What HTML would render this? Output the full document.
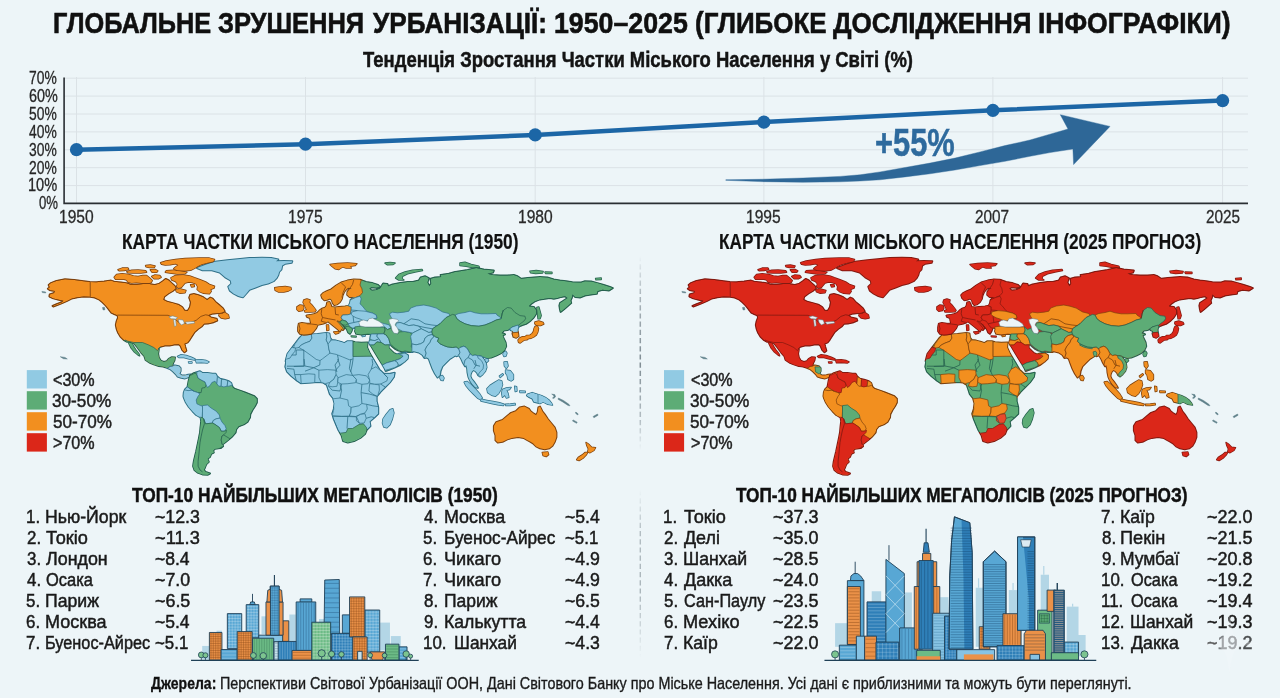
<!DOCTYPE html>
<html lang="uk"><head><meta charset="utf-8"><title>Глобальне зрушення урбанізації: 1950–2025</title>
<style>
html,body{margin:0;padding:0;}
body{width:1280px;height:698px;overflow:hidden;background:#edf5f8;font-family:"Liberation Sans", sans-serif;position:relative;}
#g,#ov{position:absolute;left:0;top:0;width:1280px;height:698px;display:block;}
.t{position:absolute;display:block;white-space:nowrap;transform-origin:0 0;margin:0;padding:0;font-weight:400;}
h1,h2,h3,p{margin:0;padding:0;font-size:0;line-height:0;}
</style></head><body>
<svg id="g" width="1280" height="698" viewBox="0 0 1280 698">
<line x1="64" y1="78.2" x2="1248" y2="78.2" stroke="#dbe2e6" stroke-width="1"/>
<line x1="64" y1="96.1" x2="1248" y2="96.1" stroke="#dbe2e6" stroke-width="1"/>
<line x1="64" y1="114.0" x2="1248" y2="114.0" stroke="#dbe2e6" stroke-width="1"/>
<line x1="64" y1="131.9" x2="1248" y2="131.9" stroke="#dbe2e6" stroke-width="1"/>
<line x1="64" y1="149.8" x2="1248" y2="149.8" stroke="#dbe2e6" stroke-width="1"/>
<line x1="64" y1="167.7" x2="1248" y2="167.7" stroke="#dbe2e6" stroke-width="1"/>
<line x1="64" y1="185.6" x2="1248" y2="185.6" stroke="#dbe2e6" stroke-width="1"/>
<line x1="64" y1="203.5" x2="1248" y2="203.5" stroke="#dbe2e6" stroke-width="1"/>
<line x1="76.5" y1="77" x2="76.5" y2="203" stroke="#dbe2e6" stroke-width="1"/>
<line x1="305.5" y1="77" x2="305.5" y2="203" stroke="#dbe2e6" stroke-width="1"/>
<line x1="535.2" y1="77" x2="535.2" y2="203" stroke="#dbe2e6" stroke-width="1"/>
<line x1="763.9" y1="77" x2="763.9" y2="203" stroke="#dbe2e6" stroke-width="1"/>
<line x1="992.9" y1="77" x2="992.9" y2="203" stroke="#dbe2e6" stroke-width="1"/>
<line x1="1222.6" y1="77" x2="1222.6" y2="203" stroke="#dbe2e6" stroke-width="1"/>
<path d="M64.1 77.5 V203.4 H1248" fill="none" stroke="#2a2f33" stroke-width="1.6"/>
<path d="M725.8,179.8 760,179.3 803,178.0 840,176.4 860,174.8 880,171.9 905,167.5 930,163.1 955,158.1 980,151.9 1005,145.6 1030,140.0 1050,134.2 1068,129.0 L1060.3,114.7 L1110,126.4 L1073.6,164.6 L1072.9,149.0 L1050,152.6 L1030,156.3 L1005,161.3 L980,165.6 L955,170.0 L930,173.8 L905,176.9 L880,179.8 L860,181.0 L840,181.8 L803,182.3 L760,181.6 L725.8,180.3Z" fill="#2e6797" stroke="#2e6797" stroke-width="0.4" stroke-linejoin="round"/>
<polyline points="76.5,149.7 305.5,144.2 535.2,134.9 763.9,122.1 992.9,110.3 1222.6,100.6" fill="none" stroke="#1c66a6" stroke-width="4.5" stroke-linejoin="round"/>
<circle cx="76.5" cy="149.7" r="6.6" fill="#1c66a6"/>
<circle cx="305.5" cy="144.2" r="6.6" fill="#1c66a6"/>
<circle cx="535.2" cy="134.9" r="6.6" fill="#1c66a6"/>
<circle cx="763.9" cy="122.1" r="6.6" fill="#1c66a6"/>
<circle cx="992.9" cy="110.3" r="6.6" fill="#1c66a6"/>
<circle cx="1222.6" cy="100.6" r="6.6" fill="#1c66a6"/>
<defs><path id="L_na" d="M50.9,283.1 56.4,280.9 65.0,279.2 74.4,280.0 83.8,281.2 90.0,281.9 96.2,282.2 104.1,281.5 111.1,280.6 114.2,281.7 121.2,282.5 126.7,283.3 130.6,284.7 136.9,284.7 143.1,284.0 149.4,284.0 154.8,285.0 159.5,283.6 163.4,280.8 165.8,278.9 168.9,280.5 172.0,283.6 174.7,285.9 175.9,288.3 172.8,290.9 168.1,293.7 164.2,296.8 163.4,299.7 167.3,301.8 172.8,303.1 178.3,304.7 182.2,307.0 184.5,310.6 187.7,310.9 190.0,307.0 190.8,302.3 189.2,297.6 190.3,294.7 193.9,294.0 198.6,295.3 203.3,297.2 207.2,300.0 210.3,297.6 212.7,298.7 215.8,302.3 219.7,305.4 223.1,308.6 224.7,311.2 222.0,312.8 216.6,313.2 211.9,313.7 208.0,315.3 211.1,317.5 216.6,318.7 217.3,320.6 212.7,322.6 208.0,323.4 204.1,323.7 201.7,326.5 198.1,328.9 194.7,332.0 192.3,335.6 190.0,339.3 187.7,342.4 184.5,343.7 185.3,347.1 186.4,350.7 184.5,352.3 182.2,349.9 180.6,346.0 178.8,344.3 174.4,344.6 169.7,345.6 165.0,345.6 160.3,346.8 157.5,349.2 158.8,349.4 158.1,353.8 158.8,357.5 160.6,360.6 163.8,361.9 166.9,361.2 168.8,358.8 171.9,357.2 175.0,357.5 174.4,360.6 173.1,363.1 172.2,365.6 175.0,365.6 178.8,366.2 180.6,368.1 180.6,371.2 179.4,373.8 181.9,375.6 185.0,375.6 188.1,374.8 190.6,374.4 190.0,376.5 188.1,377.2 185.0,378.4 181.2,377.8 177.5,376.5 175.6,374.0 173.1,371.5 170.0,369.0 166.2,367.5 163.1,366.5 158.8,366.0 153.8,364.4 149.4,362.5 145.6,360.0 144.4,356.2 141.2,352.5 137.5,347.5 134.0,343.1 127.8,341.2 127.2,341.8 123.6,339.8 120.5,336.7 118.1,332.8 116.6,328.9 115.8,325.0 116.6,321.1 118.1,317.5 117.3,315.3 114.2,314.0 111.1,312.5 108.8,309.3 105.6,305.4 102.5,302.3 99.4,299.7 94.7,297.6 90.0,296.8 83.8,296.5 77.5,297.2 72.0,298.4 66.6,301.2 60.3,303.9 53.3,306.5 52.5,305.9 57.2,303.9 61.9,302.3 63.4,300.8 58.8,299.7 53.3,298.4 49.4,296.5 49.7,294.5 54.1,292.9 54.8,290.9 50.2,290.3 47.8,288.7 49.7,287.2 48.6,285.1Z"/><path id="L_baja" d="M127.8,341.0 129.4,344.4 131.2,348.1 134.4,351.9 138.1,355.0 139.6,355.8 138.8,353.8 136.0,350.2 133.5,346.5 132.2,343.5 131.9,342.2Z"/><path id="L_greenland" d="M197.0,268.0 205.6,264.8 215.0,261.7 227.5,260.2 240.0,259.1 249.4,258.1 261.9,257.8 271.2,258.1 278.3,259.4 275.9,261.2 283.8,260.9 292.3,261.2 291.6,262.8 285.3,263.7 282.2,265.6 281.4,269.5 279.1,271.9 278.3,275.0 276.7,278.1 273.6,281.2 268.1,283.6 261.9,285.1 255.6,287.5 249.4,289.8 246.2,293.7 243.1,297.2 240.8,296.8 238.4,296.1 233.8,293.7 229.8,290.6 228.3,286.7 231.4,283.6 230.6,280.5 225.2,277.3 219.7,272.6 211.9,270.3 202.5,270.3Z"/><path id="L_banks" d="M118.0,269.8 122.2,268.1 127.8,267.9 128.7,269.4 124.1,270.6 119.4,270.8Z"/><path id="L_melville" d="M126.9,271.7 131.6,270.3 138.1,270.0 145.6,270.8 146.6,272.2 140.9,273.1 133.4,273.1 127.8,272.8Z"/><path id="L_victoria" d="M114.2,277.3 116.6,274.5 122.2,273.8 128.7,274.5 133.4,275.9 138.1,276.6 142.8,275.5 146.6,275.5 149.4,277.8 152.2,280.6 151.2,282.5 147.5,283.4 141.9,283.0 136.2,282.5 131.6,283.0 127.8,282.0 126.9,280.1 124.1,279.2 119.4,279.2 115.6,279.2Z"/><path id="L_somerset" d="M151.7,276.4 155.0,275.0 159.7,275.5 161.1,277.3 158.7,278.7 154.1,278.7Z"/><path id="L_devon" d="M166.2,270.8 173.7,270.3 181.2,271.2 186.9,272.2 185.0,273.8 177.5,274.0 170.0,273.1 165.3,272.2Z"/><path id="L_ellesmere" d="M160.6,262.8 166.2,260.9 175.6,259.5 185.0,258.6 199.1,258.1 209.4,258.1 214.5,259.5 213.1,261.4 207.5,262.8 201.9,264.2 198.1,266.1 194.4,268.4 190.6,270.3 185.0,270.8 177.5,270.3 173.7,268.9 175.6,267.0 178.4,265.1 175.6,263.7 170.0,264.7 165.3,265.1 161.6,264.2Z"/><path id="L_baffin" d="M170.9,277.8 175.6,275.5 183.1,275.0 189.7,275.9 194.4,277.8 200.0,279.7 205.6,282.0 209.4,284.4 214.5,286.2 214.1,288.1 210.3,289.5 211.2,291.4 209.4,293.7 203.7,293.3 200.0,291.9 197.2,289.5 197.7,286.7 196.2,283.9 192.5,282.5 188.7,282.0 185.0,283.0 183.1,285.3 181.2,287.6 178.4,288.1 176.6,286.7 177.5,283.9 175.6,281.5 171.9,280.1Z"/><path id="L_bathurst" d="M145.6,265.6 150.3,265.1 155.0,266.1 154.1,267.5 149.4,267.5 146.1,266.8Z"/><path id="L_bathurst2" d="M150.3,269.8 155.0,269.4 157.8,270.8 156.9,272.2 152.2,272.2Z"/><path id="L_southampton" d="M175.6,289.5 180.3,289.1 185.9,290.5 185.0,292.8 180.3,293.3 176.6,291.9Z"/><path id="L_foxe" d="M190.6,284.8 193.9,284.6 194.4,286.5 191.6,286.9Z"/><path id="L_newfoundland" d="M219.7,312.5 224.4,312.2 228.3,314.8 229.1,317.9 225.2,318.7 221.2,317.9 218.9,315.6Z"/><path id="L_cuba" d="M177.5,356.5 181.2,354.8 186.2,355.4 191.2,357.2 195.0,359.0 194.4,360.0 189.4,359.0 183.8,357.5 178.8,357.5Z"/><path id="L_hispaniola" d="M195.6,360.0 201.2,359.8 206.2,360.6 209.0,361.9 207.5,362.9 201.2,362.5 196.5,362.8Z"/><path id="L_jamaica" d="M188.5,361.9 191.9,361.9 191.9,362.9 188.8,362.9Z"/><path id="L_sa" d="M190.0,375.6 193.8,373.1 197.5,371.9 200.0,371.2 202.5,373.1 207.5,373.1 212.5,373.8 215.6,373.8 217.5,376.9 220.0,378.8 225.0,380.0 228.8,381.2 231.2,383.1 232.5,386.9 234.4,388.8 240.0,390.6 245.0,392.5 250.0,394.4 254.4,396.2 256.9,398.8 256.9,402.5 255.0,406.2 252.5,410.0 250.6,413.8 250.6,412.5 250.0,417.5 247.5,421.9 243.8,424.4 238.8,426.2 236.2,429.4 235.6,432.5 232.5,436.2 228.8,439.4 225.0,442.5 222.5,444.4 223.1,446.2 220.6,448.1 215.0,448.8 213.1,450.6 213.8,452.5 211.2,453.8 210.0,456.9 207.5,458.8 208.8,461.9 206.2,464.4 205.0,467.5 203.8,470.0 205.6,471.9 210.0,473.5 207.5,474.8 202.5,474.4 197.5,472.5 194.4,470.0 193.1,466.2 193.8,461.2 195.0,456.2 196.2,451.2 197.5,445.0 198.8,438.8 200.0,432.5 200.6,426.2 201.2,421.2 200.6,417.5 196.2,415.0 192.5,411.2 188.8,406.9 185.6,401.9 183.8,397.5 183.5,396.2 183.8,392.5 185.0,389.4 187.5,386.9 188.1,383.8 188.8,380.0 189.8,376.9Z"/><path id="L_africa" d="M302.5,335.0 311.2,334.4 317.5,334.0 326.2,333.1 329.4,333.5 330.0,337.5 331.9,340.0 336.2,340.6 341.2,341.9 344.4,343.1 347.5,341.2 351.9,341.2 355.0,342.2 361.2,342.8 367.5,342.5 367.1,347.5 370.0,353.8 373.8,360.0 377.5,366.2 380.4,371.2 380.6,370.7 383.8,373.8 390.0,373.8 394.7,372.7 393.9,377.0 390.0,382.4 385.3,387.1 380.6,391.8 376.7,396.5 376.7,401.2 378.3,407.4 378.3,413.7 374.4,417.6 369.7,421.5 370.5,426.1 366.6,430.1 365.0,434.0 360.3,437.9 354.1,441.0 347.8,442.5 343.1,441.0 341.6,435.5 338.4,430.1 336.1,424.6 333.8,419.1 332.2,413.7 333.8,409.0 334.5,403.5 333.0,398.0 329.8,394.1 328.3,389.5 326.7,384.8 322.8,382.4 318.1,382.1 308.8,382.7 300.9,383.2 296.2,380.1 291.6,376.2 286.9,371.5 285.3,366.8 286.1,362.1 285.6,361.2 286.2,358.8 287.5,353.8 291.2,348.8 295.0,343.8 298.8,338.8Z"/><path id="L_madagascar" d="M383.0,419.1 386.1,414.4 390.0,409.8 392.8,408.7 393.9,412.9 392.3,419.1 390.0,424.6 386.9,427.7 383.8,426.9 382.5,423.0Z"/><path id="L_eurasia" d="M298.1,331.2 298.1,327.5 298.8,323.8 301.9,323.1 306.9,323.8 311.2,323.8 310.6,321.2 310.0,318.0 306.9,316.8 306.5,315.6 310.0,315.1 313.8,314.2 317.2,312.9 319.5,310.6 321.9,308.8 325.0,307.8 326.5,306.0 327.2,302.5 329.4,301.9 330.6,304.4 331.5,306.9 335.0,307.5 338.8,306.9 345.0,306.5 348.8,305.6 350.0,303.1 350.6,300.0 352.5,298.1 355.6,297.5 352.5,296.9 349.4,296.9 347.2,294.8 347.5,291.9 349.4,289.4 351.9,288.1 348.1,287.8 345.6,290.0 343.8,292.5 342.5,295.6 341.9,298.8 340.0,301.9 336.9,304.4 334.4,305.0 332.8,303.1 331.9,300.0 330.0,298.5 326.9,299.8 324.4,300.2 322.2,298.1 321.2,295.2 323.1,293.1 326.9,291.2 331.2,289.4 336.2,285.6 341.2,282.5 347.5,280.6 353.8,279.4 360.0,279.8 366.2,281.9 372.5,283.1 378.1,285.0 380.0,286.9 376.2,287.8 371.2,287.2 369.4,288.8 371.9,290.6 376.2,290.0 380.0,288.5 381.9,285.6 383.1,283.5 387.5,284.0 388.1,286.2 392.5,284.4 400.0,283.1 407.5,281.9 412.5,281.9 418.8,280.6 420.6,277.5 425.0,276.2 428.8,278.1 427.5,282.5 429.4,286.2 431.2,283.5 430.6,278.8 435.0,277.5 441.2,276.9 440.6,275.0 448.8,273.8 455.0,271.9 460.0,271.2 467.5,270.0 476.2,268.1 483.8,269.4 493.8,270.6 493.1,272.5 487.5,273.8 492.5,275.0 500.0,275.6 507.5,275.6 513.8,275.0 517.5,276.2 521.2,278.8 527.5,278.1 533.8,277.5 540.0,276.9 547.5,277.5 553.8,279.4 560.0,280.6 566.2,281.2 572.5,282.2 581.2,282.5 585.0,281.2 591.2,281.5 597.5,283.1 603.8,285.0 610.0,286.9 612.8,288.1 608.8,290.6 602.5,289.8 597.5,291.2 596.9,293.8 591.2,294.4 585.0,295.6 580.0,297.5 575.0,296.9 572.5,294.4 571.9,297.5 570.6,300.6 571.2,303.1 567.5,306.2 563.8,309.4 560.6,311.9 559.8,308.8 559.4,305.6 560.0,303.1 563.8,300.6 567.5,298.1 565.0,296.2 561.2,296.9 557.5,298.1 553.8,298.8 550.0,298.1 545.0,298.8 540.0,299.4 535.0,301.2 531.2,303.8 528.8,306.2 533.8,306.9 536.2,310.0 536.2,313.8 533.8,317.5 530.0,321.2 526.2,323.8 522.5,325.0 519.4,326.2 518.1,327.5 517.5,330.0 518.1,333.1 518.5,336.2 516.2,337.8 513.5,336.9 512.5,333.8 513.1,331.2 510.6,330.0 510.0,328.8 507.5,330.0 503.8,330.6 501.9,332.5 505.0,334.4 502.5,335.6 503.8,338.8 505.6,342.5 506.2,346.2 504.4,350.0 501.2,353.1 496.2,355.6 491.2,357.5 487.5,358.1 483.8,356.9 481.2,356.2 484.0,360.0 486.0,363.8 486.5,367.5 485.2,371.2 482.5,374.4 480.0,376.5 478.1,375.2 477.2,373.1 475.5,371.2 473.5,370.0 472.0,371.2 470.8,373.8 470.4,376.2 471.5,378.8 474.0,381.9 476.2,385.0 477.8,387.8 475.2,387.2 472.2,384.0 469.8,380.2 468.4,376.9 467.5,372.5 467.2,368.8 466.2,365.0 465.0,366.2 463.1,363.1 461.2,358.8 459.0,355.2 456.9,356.2 455.0,355.6 453.1,356.9 450.0,358.8 446.2,362.5 442.5,366.2 440.6,371.2 440.0,375.0 437.5,377.5 435.0,373.8 432.5,368.8 430.6,363.8 428.8,358.8 426.9,357.5 424.4,358.1 422.5,355.0 418.8,352.5 413.8,351.2 407.5,351.9 400.0,350.6 412.5,352.1 409.6,352.0 403.1,351.4 398.4,350.6 395.6,349.2 392.8,346.9 390.5,344.8 388.5,344.8 388.8,348.1 391.9,351.2 394.0,353.2 397.0,354.5 399.8,353.5 401.9,353.1 405.6,353.8 408.0,355.4 407.8,358.5 404.4,361.8 399.8,365.1 394.0,367.9 388.5,370.1 385.6,371.0 384.8,368.8 381.9,363.8 378.8,358.8 375.0,352.5 371.9,347.2 370.2,344.8 369.0,342.8 370.0,340.0 370.6,336.2 371.2,334.0 367.5,333.8 361.2,334.4 356.2,333.8 355.0,331.2 355.6,328.8 353.8,327.5 352.5,328.5 351.5,331.2 350.0,333.8 348.1,332.5 346.9,329.4 345.0,326.9 343.1,324.4 340.2,322.5 338.1,320.6 336.2,319.8 339.4,322.2 342.5,325.2 344.4,328.1 343.1,330.0 341.2,329.0 340.0,331.5 338.1,329.4 335.0,326.9 331.9,324.4 329.4,322.5 328.1,321.2 326.2,322.5 322.5,323.8 318.8,324.4 317.5,325.0 316.2,328.1 313.8,331.2 311.2,333.8 306.9,334.4 303.8,334.8 300.0,333.8Z"/><path id="L_iceland" d="M274.7,287.8 279.1,286.9 285.3,286.5 290.8,287.5 291.2,289.4 288.4,290.9 283.8,291.9 278.3,291.9 275.2,290.3Z"/><path id="L_gb" d="M303.8,300.0 306.9,299.0 310.0,300.0 309.4,302.5 311.9,305.0 314.4,308.1 316.0,310.5 314.8,311.8 310.0,312.1 305.0,311.9 304.4,310.6 306.9,309.8 305.6,307.5 304.4,305.0 303.1,302.5Z"/><path id="L_ireland" d="M296.9,306.9 300.0,305.0 303.1,305.6 303.8,308.1 302.5,310.6 298.8,311.2 296.9,309.4Z"/><path id="L_sardinia" d="M326.5,325.0 328.5,325.0 328.8,330.0 326.9,330.6Z"/><path id="L_sicily" d="M333.8,331.9 338.5,331.5 338.8,333.1 335.6,334.0Z"/><path id="L_crete" d="M351.2,336.0 356.2,336.2 356.0,337.0 351.5,336.8Z"/><path id="L_cyprus" d="M361.9,335.6 365.0,335.0 365.2,336.0 362.5,336.5Z"/><path id="L_svalbard" d="M330.0,264.4 337.5,263.5 347.5,263.1 356.9,263.8 355.0,265.6 350.0,266.2 351.2,268.1 346.2,268.1 342.5,266.9 338.8,269.4 335.0,268.8 331.9,266.2Z"/><path id="L_fjl" d="M385.0,263.1 390.0,262.5 395.0,263.1 393.1,264.4 387.5,264.8Z"/><path id="L_novaya" d="M395.6,278.1 398.8,274.4 405.0,271.9 412.5,270.2 421.9,269.4 422.5,270.6 415.0,271.9 407.5,273.8 402.5,276.2 401.9,278.8 403.8,280.0 398.8,280.0Z"/><path id="L_severnaya" d="M460.0,263.1 465.0,262.2 471.2,264.4 478.8,266.2 479.4,267.5 472.5,267.5 466.2,266.2 460.0,265.6Z"/><path id="L_newsib1" d="M530.0,271.2 536.2,270.6 543.1,271.5 542.5,273.1 535.6,273.5 530.6,272.8Z"/><path id="L_newsib2" d="M545.0,272.1 551.9,272.2 551.9,273.5 545.6,273.5Z"/><path id="L_wrangel" d="M595.6,278.4 601.2,278.1 601.2,279.6 596.0,279.8Z"/><path id="L_sakhalin" d="M536.9,307.5 538.8,306.9 540.0,311.2 541.2,315.6 540.0,318.8 538.1,318.8 537.5,313.8Z"/><path id="L_hokkaido" d="M535.0,321.9 538.8,321.0 543.1,322.5 543.8,324.0 540.6,325.6 536.9,325.6 534.8,323.8Z"/><path id="L_honshu" d="M518.1,340.0 519.8,338.0 522.5,336.8 525.0,336.8 526.5,335.6 530.0,335.2 532.2,333.5 533.5,331.5 534.0,328.8 535.0,326.5 537.2,326.0 538.5,328.5 537.8,331.9 536.5,334.8 533.8,336.9 531.2,338.2 528.8,338.5 526.9,339.8 524.4,340.0 522.2,341.5 520.2,343.0 518.5,342.2Z"/><path id="L_srilanka" d="M440.2,376.0 442.5,375.6 444.0,378.1 443.1,380.6 441.0,380.2 440.0,378.1Z"/><path id="L_taiwan" d="M503.5,352.5 505.6,351.2 506.9,353.1 506.0,356.0 504.0,356.5 503.1,354.4Z"/><path id="L_hainan" d="M485.0,359.4 487.5,358.8 488.5,360.6 486.9,362.2 485.0,361.5Z"/><path id="L_australia" d="M493.9,426.1 496.2,422.2 502.5,419.9 507.2,416.0 511.1,412.9 515.8,411.3 519.7,407.4 524.4,406.6 529.1,409.0 530.6,411.3 533.8,413.7 536.1,415.2 537.7,412.1 538.4,407.4 540.0,406.6 542.3,411.3 544.7,414.4 547.8,419.1 551.7,423.8 554.8,427.7 556.4,432.4 556.4,437.1 554.8,441.8 552.5,445.7 549.4,448.3 544.7,449.3 540.0,448.3 536.1,446.4 533.0,443.3 530.6,441.8 527.5,440.2 523.6,437.9 518.1,437.1 511.9,437.9 507.2,439.4 502.5,441.8 497.8,442.5 495.5,440.2 495.5,435.5 493.9,430.8Z"/><path id="L_tasmania" d="M542.3,452.4 547.8,451.9 548.6,454.6 546.2,456.6 543.1,455.5Z"/><path id="L_nz_n" d="M586.1,442.5 588.4,444.1 591.6,447.2 595.5,447.7 593.9,450.4 590.0,452.7 587.7,451.9 588.4,448.8 586.9,445.7Z"/><path id="L_nz_s" d="M587.7,452.4 586.1,455.0 583.0,458.2 579.1,460.5 576.7,459.7 578.3,457.4 582.2,455.0 585.3,452.4Z"/><path id="L_newguinea" d="M527.5,394.1 532.2,392.6 536.9,394.1 541.6,395.7 546.2,398.0 549.4,400.4 551.7,403.5 552.5,405.1 547.8,404.3 543.1,401.9 540.0,403.5 536.9,402.7 533.8,401.9 532.2,398.8 529.1,397.3 526.7,395.7Z"/><path id="L_sumatra" d="M464.2,382.1 467.3,381.6 471.2,384.8 475.9,389.5 479.8,394.1 482.2,398.0 480.9,399.9 477.5,398.0 473.6,394.1 469.7,390.2 465.8,385.5Z"/><path id="L_java" d="M481.4,399.3 486.9,400.4 493.1,401.5 499.4,402.7 504.1,404.3 503.3,405.5 497.8,404.8 491.6,403.5 485.3,401.9 480.9,400.9Z"/><path id="L_sunda" d="M505.6,404.3 510.3,404.0 515.0,403.5 515.3,404.8 510.3,405.5 505.9,405.5Z"/><path id="L_borneo" d="M486.9,388.7 490.0,385.5 494.7,382.4 498.6,380.1 501.7,380.9 502.5,384.8 500.9,389.5 498.6,393.4 495.5,396.2 491.6,395.2 487.7,392.6Z"/><path id="L_sulawesi" d="M502.5,389.5 506.4,387.9 511.1,387.4 509.5,389.5 506.4,390.2 508.0,393.4 508.8,397.3 506.4,398.0 504.8,394.9 502.5,397.3 501.7,393.4Z"/><path id="L_luzon" d="M504.1,362.1 507.2,361.8 508.0,366.0 506.4,368.4 504.4,366.0Z"/><path id="L_visayas" d="M505.6,369.9 510.3,370.7 513.4,374.6 513.4,379.3 511.1,380.9 508.0,379.3 507.2,375.4 505.6,373.1Z"/><path id="L_palawan" d="M499.4,376.2 502.5,373.8 503.3,374.6 500.2,377.4Z"/><path id="L_halmahera" d="M514.7,386.3 516.6,386.8 516.9,391.0 515.3,391.5Z"/><path id="L_seram" d="M519.7,391.0 525.2,391.3 525.2,392.6 520.0,392.4Z"/><clipPath id="C_africa"><use href="#L_africa"/></clipPath><mask id="M_africa" maskUnits="userSpaceOnUse" x="0" y="240" width="640" height="250"><use href="#L_africa" fill="#fff" stroke="#fff" stroke-width="2.0" stroke-linejoin="round"/></mask><clipPath id="C_eurasia"><use href="#L_eurasia"/></clipPath><mask id="M_eurasia" maskUnits="userSpaceOnUse" x="0" y="240" width="640" height="250"><use href="#L_eurasia" fill="#fff" stroke="#fff" stroke-width="2.0" stroke-linejoin="round"/></mask><clipPath id="C_na"><use href="#L_na"/></clipPath><mask id="M_na" maskUnits="userSpaceOnUse" x="0" y="240" width="640" height="250"><use href="#L_na" fill="#fff" stroke="#fff" stroke-width="2.0" stroke-linejoin="round"/></mask><clipPath id="C_newguinea"><use href="#L_newguinea"/></clipPath><mask id="M_newguinea" maskUnits="userSpaceOnUse" x="0" y="240" width="640" height="250"><use href="#L_newguinea" fill="#fff" stroke="#fff" stroke-width="1.5" stroke-linejoin="round"/></mask><clipPath id="C_sa"><use href="#L_sa"/></clipPath><mask id="M_sa" maskUnits="userSpaceOnUse" x="0" y="240" width="640" height="250"><use href="#L_sa" fill="#fff" stroke="#fff" stroke-width="2.0" stroke-linejoin="round"/></mask><path id="P0" d="M125.0,340.0 127.8,341.2 133.8,342.5 142.5,342.5 148.8,345.0 153.8,347.5 157.5,350.6 160.0,348.1 161.2,355.0 176.2,355.6 176.0,360.6 173.8,363.5 172.5,366.2 170.0,366.5 168.1,368.1 166.2,369.0 157.5,367.5 145.0,363.8 132.5,357.5 125.0,345.0Z"/><path id="P1" d="M168.1,368.1 170.0,366.5 172.5,366.2 175.6,364.4 182.5,366.2 182.5,373.1 189.4,373.8 191.9,374.0 191.9,378.1 185.0,380.0 176.2,378.1 170.0,371.9 166.2,369.0Z"/><path id="P2" d="M175.0,366.9 181.2,366.9 181.5,373.1 178.8,373.8 175.6,371.9Z"/><path id="P3" d="M186.2,373.8 190.0,375.6 195.0,373.1 196.9,374.4 198.1,378.1 201.2,380.0 205.0,381.9 206.2,385.0 205.0,387.5 201.9,388.1 201.2,392.5 197.5,392.5 193.8,391.2 190.0,388.8 187.5,386.9 185.0,385.0Z"/><path id="P4" d="M196.9,370.0 202.5,371.9 212.5,372.5 216.2,372.5 217.5,376.9 216.9,383.8 215.0,381.2 211.9,382.5 210.0,385.6 207.5,387.5 206.2,385.0 205.0,381.9 201.2,380.0 198.1,378.1 196.9,374.4Z"/><path id="P5" d="M217.5,375.6 220.0,378.1 221.5,379.4 221.2,386.2 218.8,386.2 216.9,383.8Z"/><path id="P6" d="M221.5,379.4 225.0,379.4 227.8,380.6 227.2,386.2 223.8,386.9 221.2,386.2Z"/><path id="P7" d="M227.8,380.6 231.9,382.5 232.5,385.0 228.8,386.2 227.2,386.2Z"/><path id="P8" d="M182.5,386.2 187.5,386.9 190.0,388.8 193.8,391.2 197.5,392.5 200.0,393.8 198.1,396.2 196.2,400.0 196.9,403.8 200.6,405.6 202.5,406.2 202.5,411.2 202.2,416.2 202.5,417.5 200.0,418.1 195.0,415.6 191.2,411.9 187.5,407.5 183.8,401.9 181.9,397.5 181.9,396.9 181.9,392.5Z"/><path id="P9" d="M202.5,405.6 207.5,405.0 211.2,408.1 216.2,411.2 219.4,415.0 220.0,418.1 216.2,418.8 213.1,420.6 212.5,423.1 205.6,423.8 203.8,419.4 202.5,417.5 202.5,410.0Z"/><path id="P10" d="M213.1,420.6 216.2,418.8 220.0,418.1 221.9,421.9 225.0,425.6 226.2,428.8 224.4,431.2 221.2,431.2 219.4,427.5 215.0,424.4 212.5,423.1Z"/><path id="P11" d="M199.4,417.2 202.5,417.5 203.8,419.4 205.6,423.8 212.5,423.1 215.0,424.4 219.4,427.5 221.2,431.2 224.4,431.2 226.5,430.2 226.0,432.5 223.8,434.8 221.9,436.2 221.2,440.0 222.2,444.4 225.0,445.0 215.0,451.2 212.5,476.2 191.2,476.2 191.2,432.5Z"/><path id="P12" d="M221.9,436.2 223.8,435.0 226.9,436.9 230.0,438.8 231.2,441.2 225.0,444.4 222.2,444.4 221.2,440.0Z"/><path id="P13" d="M292.5,350.0 295.0,343.8 298.8,338.8 302.5,334.4 306.9,333.8 311.2,333.8 311.9,338.1 310.0,341.2 305.0,343.1 301.2,345.0 298.8,347.5 295.6,348.1 292.5,347.5Z"/><path id="P14" d="M292.5,347.5 295.6,348.1 295.0,351.2 291.9,355.0 290.0,358.1 285.0,359.4 285.0,353.8 290.0,348.1Z"/><path id="P15" d="M311.2,333.8 317.5,333.1 326.2,332.2 326.9,336.2 326.2,340.0 328.1,343.8 328.8,348.8 330.0,353.1 327.5,355.0 322.5,358.8 320.0,360.6 316.2,359.4 311.2,355.6 305.0,351.2 300.0,348.1 298.8,347.5 301.2,345.0 305.0,343.1 310.0,341.2 311.9,338.1Z"/><path id="P16" d="M326.2,332.2 330.0,332.5 330.6,337.5 331.2,340.0 329.4,342.5 328.1,343.8 326.2,340.0 326.9,336.2Z"/><path id="P17" d="M331.2,340.0 336.2,340.0 341.2,341.2 344.4,342.5 347.5,340.6 351.9,340.6 353.1,341.9 353.1,358.8 350.0,360.0 342.5,356.9 336.2,354.4 330.0,353.1 328.8,348.8 328.1,343.8 329.4,342.5Z"/><path id="P18" d="M353.1,341.9 355.0,341.5 361.2,342.0 368.1,341.9 368.8,347.5 370.6,351.2 372.5,356.2 353.1,356.5Z"/><path id="P19" d="M300.6,374.6 308.8,373.8 315.0,374.3 314.7,382.7 308.8,383.2 301.2,383.7Z"/><path id="P20" d="M318.9,370.2 327.5,369.6 335.6,370.2 336.1,374.6 333.8,379.3 329.8,382.4 325.2,383.7 321.2,382.4 318.9,377.7Z"/><path id="P21" d="M329.8,382.4 333.8,379.3 336.1,374.6 338.1,377.7 337.7,382.4 336.9,386.3 332.2,386.8 328.3,385.9Z"/><path id="P22" d="M337.7,382.4 338.1,377.7 346.2,374.6 352.5,375.4 356.4,379.3 355.6,382.7 347.8,383.7 341.6,384.0Z"/><path id="P23" d="M352.5,375.4 358.8,374.6 366.6,375.9 369.7,380.1 368.1,383.7 361.9,384.3 356.4,382.7 356.4,379.3Z"/><path id="P24" d="M369.7,380.1 368.1,374.6 371.2,369.2 375.9,366.8 381.4,371.2 387.7,377.7 386.9,380.9 380.6,384.0 374.4,384.3 369.7,383.2Z"/><path id="P25" d="M369.7,383.7 374.4,384.3 379.1,384.8 379.4,390.2 377.5,396.5 372.8,394.1 368.9,391.0Z"/><path id="P26" d="M333.0,398.8 340.0,398.0 347.8,399.9 348.6,405.8 351.2,407.4 350.9,412.1 349.4,416.0 341.6,416.5 332.2,416.0 333.8,409.0Z"/><path id="P27" d="M349.4,416.0 350.9,412.1 351.2,407.4 358.8,405.8 361.9,403.5 366.6,404.3 367.3,409.0 365.0,412.9 360.3,414.4 355.6,416.5Z"/><path id="P28" d="M356.4,416.8 360.3,414.4 365.0,413.7 366.2,418.3 364.2,423.0 359.5,423.3 356.4,420.7Z"/><path id="P29" d="M340.0,433.2 346.2,432.4 347.8,428.5 352.5,428.5 358.8,424.6 363.4,423.8 366.6,427.7 366.6,432.4 363.4,437.9 354.1,443.3 346.2,444.1 341.6,441.8Z"/><path id="P30" d="M292.5,260.0 361.2,260.0 361.2,280.0 360.0,285.0 361.9,288.8 362.5,292.5 360.0,295.6 355.6,297.5 350.0,300.0 348.1,305.6 351.2,306.9 351.2,310.0 350.6,314.0 347.5,314.8 342.5,315.0 341.2,317.5 342.5,320.0 340.0,321.5 336.9,321.2 338.8,323.1 342.5,327.5 343.8,330.6 340.0,334.5 333.8,332.5 329.4,331.9 321.2,331.5 316.2,332.5 311.9,334.0 306.9,334.7 302.5,334.9 298.8,334.9 292.5,332.5 292.5,322.5Z"/><path id="P31" d="M348.1,305.6 350.0,300.0 355.6,297.5 360.0,296.2 361.2,298.8 360.0,303.8 362.5,306.2 365.0,309.4 367.5,311.9 372.5,313.1 376.2,315.0 376.9,318.1 373.1,318.8 370.0,319.4 366.2,321.2 362.5,320.2 360.0,321.2 360.0,326.9 356.2,328.1 351.9,328.1 350.0,326.9 348.1,323.8 346.2,321.2 342.5,320.0 341.2,317.5 342.5,315.0 347.5,314.8 350.6,314.0 351.2,310.0 351.2,306.9Z"/><path id="P32" d="M351.9,311.9 357.5,310.6 365.0,311.2 372.5,313.1 376.2,315.0 376.9,318.1 373.1,318.8 370.0,319.4 366.2,321.2 362.5,320.2 360.0,319.0 356.2,317.8 353.1,316.2 351.2,314.4Z"/><path id="P33" d="M340.0,321.5 342.5,320.0 346.2,321.2 348.1,323.8 345.6,325.2 342.5,324.8 340.6,323.1Z"/><path id="P34" d="M345.0,326.9 348.1,326.2 351.9,328.1 352.5,330.0 351.2,334.4 348.1,333.1 346.5,329.4Z"/><path id="P35" d="M354.8,326.9 360.0,326.2 367.5,326.9 380.0,326.9 384.4,326.9 385.2,330.0 383.8,333.8 377.5,334.0 371.2,334.4 367.5,334.2 361.2,335.0 355.6,334.4 354.4,331.2Z"/><path id="P36" d="M380.0,322.5 383.8,323.5 389.0,324.8 391.0,328.1 387.5,329.6 385.0,328.1 384.4,326.9 380.0,326.9 378.8,324.8Z"/><path id="P37" d="M371.0,334.0 377.5,334.0 376.9,336.2 378.8,338.8 375.0,340.6 371.9,340.2 369.8,338.5Z"/><path id="P38" d="M377.5,334.0 383.8,333.8 386.2,335.0 388.8,338.8 390.2,343.8 389.4,344.8 385.0,345.0 381.2,342.5 378.8,338.8 376.9,336.2Z"/><path id="P39" d="M369.4,340.0 371.9,340.2 375.0,340.6 378.8,338.8 381.2,342.5 376.9,341.9 373.8,345.0 368.1,345.0 367.5,341.9Z"/><path id="P40" d="M368.1,345.0 373.8,345.0 376.9,341.9 381.2,342.5 385.0,345.0 389.4,344.8 390.0,346.9 393.8,350.0 397.5,353.1 401.9,354.0 403.1,356.2 400.0,358.8 395.0,360.6 390.0,361.9 386.2,363.1 382.5,365.0 379.4,365.6 376.2,361.9 373.1,356.2 370.0,351.2 368.1,347.5Z"/><path id="P41" d="M379.4,365.6 382.5,365.0 386.2,363.1 390.0,361.9 395.0,360.6 397.5,362.5 398.5,365.2 395.0,367.5 388.8,369.4 381.9,371.2 380.0,367.5Z"/><path id="P42" d="M397.5,353.1 401.9,354.0 405.0,352.5 408.1,354.4 409.0,358.1 405.6,361.9 400.0,365.0 398.5,365.2 397.5,362.5 395.0,360.6 400.0,358.8 403.1,356.2Z"/><path id="P43" d="M384.4,326.9 387.5,329.6 391.0,328.1 392.5,331.2 397.5,334.0 399.4,331.9 405.0,331.5 410.0,332.5 412.5,335.0 411.2,338.8 412.5,342.5 411.2,346.2 413.1,349.4 412.8,352.5 405.0,351.0 401.9,351.9 398.8,350.6 395.0,348.1 391.9,345.6 390.2,343.8 388.8,338.8 386.2,335.0 383.8,333.8 385.2,330.0Z"/><path id="P44" d="M389.4,313.8 392.5,312.2 397.5,312.8 403.8,312.2 408.8,311.2 410.6,308.1 416.2,306.0 423.8,305.0 430.0,306.2 436.2,308.1 442.5,311.9 448.8,313.5 450.0,315.6 446.2,317.5 442.5,321.2 440.0,323.8 436.2,326.2 432.5,328.8 431.9,331.9 428.8,332.5 425.0,330.6 421.2,328.8 418.8,326.2 413.8,325.0 408.8,325.6 403.8,323.8 400.0,322.5 396.2,323.1 393.8,320.0 391.2,317.5Z"/><path id="P45" d="M396.2,323.1 400.0,322.5 403.8,323.8 408.8,325.6 413.8,325.0 418.8,326.2 421.2,328.8 416.2,331.2 412.5,333.1 407.5,331.9 402.5,331.2 397.5,328.8 395.6,326.2Z"/><path id="P46" d="M412.5,333.1 416.2,331.2 421.2,328.8 425.0,330.6 428.8,332.5 431.9,331.9 432.5,334.4 428.1,335.6 425.0,338.1 423.8,341.9 420.6,343.8 416.2,344.8 411.9,344.0 411.2,340.0 410.6,336.2Z"/><path id="P47" d="M411.9,344.0 416.2,344.8 420.6,343.8 423.8,341.9 425.0,338.1 428.1,335.6 432.5,334.4 433.8,336.9 431.2,339.4 430.0,342.5 426.9,346.2 425.0,350.0 426.2,353.1 424.4,358.8 422.5,355.6 418.8,353.1 413.8,351.9 411.9,351.9Z"/><path id="P48" d="M432.5,334.4 435.6,336.9 438.8,338.1 437.5,341.2 440.0,343.8 443.8,345.6 447.5,346.9 452.5,347.5 456.2,346.9 458.8,348.8 460.0,352.5 458.8,355.0 456.9,356.9 455.0,356.2 453.1,357.5 450.0,359.4 446.2,363.1 442.5,366.9 440.6,371.2 440.2,375.6 437.5,378.1 434.4,373.8 431.9,368.8 430.0,363.8 428.1,359.0 426.5,358.1 424.4,358.8 426.2,353.1 425.0,350.0 426.9,346.2 430.0,342.5 431.2,339.4 433.8,336.9Z"/><path id="P49" d="M440.0,343.8 443.8,345.6 447.5,346.9 452.5,347.5 452.2,348.8 447.5,348.1 443.8,347.1 439.8,345.2Z"/><path id="P50" d="M453.1,351.9 455.6,351.2 456.9,353.1 456.2,356.5 454.4,356.2 453.5,354.4Z"/><path id="P51" d="M455.0,315.0 458.8,313.5 465.0,312.5 470.0,311.2 475.0,312.8 481.2,313.8 487.5,313.8 496.2,313.5 496.9,315.0 500.6,317.5 501.2,318.8 496.2,320.0 491.2,322.5 485.0,325.0 478.8,326.2 471.2,325.6 465.0,323.8 460.0,321.2 456.9,318.8Z"/><path id="P52" d="M431.9,331.9 432.5,328.8 436.2,326.2 440.0,323.8 442.5,321.2 446.2,317.5 450.0,315.6 452.5,314.4 455.0,315.0 456.9,318.8 460.0,321.2 465.0,323.8 471.2,325.6 478.8,326.2 485.0,325.0 491.2,322.5 496.2,320.0 501.2,318.8 501.9,313.8 503.8,310.0 507.5,307.5 511.2,308.1 515.0,312.5 520.0,315.6 525.0,316.2 525.6,318.8 523.8,321.2 521.2,323.1 518.1,325.6 512.5,326.9 510.0,328.8 507.5,330.6 503.8,331.2 501.9,333.1 505.6,334.4 503.1,335.6 504.4,338.8 506.2,342.5 508.1,346.2 506.2,350.0 501.9,354.4 496.2,356.9 491.2,358.8 487.5,359.4 483.8,358.1 481.2,356.2 477.5,355.6 475.0,355.0 472.5,355.6 470.0,353.8 468.1,350.0 466.2,347.5 463.8,346.2 460.0,347.5 458.8,348.8 456.2,346.9 452.5,347.5 447.5,346.9 443.8,345.6 440.0,343.8 437.5,341.2 438.8,338.1 435.6,336.9 432.5,334.4Z"/><path id="P53" d="M458.8,348.8 460.0,347.5 463.8,346.2 466.2,347.5 468.1,350.0 470.0,353.8 472.5,355.6 475.0,355.0 477.5,355.6 481.2,356.2 487.5,360.0 489.0,367.5 486.2,373.1 480.0,377.5 475.0,372.5 480.0,390.0 467.5,390.0 465.0,366.2 460.0,360.0 456.9,356.9 458.8,355.0 460.0,352.5Z"/><path id="P54" d="M477.5,355.6 481.2,356.2 484.4,357.5 486.9,360.0 488.1,365.0 488.1,370.0 483.8,375.6 479.4,377.5 478.5,374.0 480.6,371.2 483.1,368.8 483.5,365.0 481.9,361.2 480.0,359.4 478.1,358.1Z"/><path id="P55" d="M509.8,328.8 512.5,326.9 518.1,325.0 519.4,328.8 518.1,332.2 513.8,332.8 510.6,331.5Z"/><path id="P56" d="M512.5,332.8 518.1,332.2 519.8,335.0 518.8,338.1 515.0,338.8 512.5,336.0Z"/><path id="P57" d="M538.0,392.6 546.2,396.5 554.1,401.2 554.1,405.8 547.8,405.1 543.1,402.7 540.0,404.3 538.0,403.5Z"/></defs>
<g transform="translate(0,0)" stroke-linejoin="round">
<use href="#L_baja" fill="#5dac76" stroke="#27624f" stroke-width="1.5" paint-order="stroke"/>
<use href="#L_greenland" fill="#91cae3" stroke="#2f7088" stroke-width="2.0" paint-order="stroke"/>
<use href="#L_banks" fill="#f28f1f" stroke="#7c400d" stroke-width="1.5" paint-order="stroke"/>
<use href="#L_melville" fill="#f28f1f" stroke="#7c400d" stroke-width="1.5" paint-order="stroke"/>
<use href="#L_victoria" fill="#f28f1f" stroke="#7c400d" stroke-width="1.5" paint-order="stroke"/>
<use href="#L_somerset" fill="#f28f1f" stroke="#7c400d" stroke-width="1.5" paint-order="stroke"/>
<use href="#L_devon" fill="#f28f1f" stroke="#7c400d" stroke-width="1.5" paint-order="stroke"/>
<use href="#L_ellesmere" fill="#f28f1f" stroke="#7c400d" stroke-width="1.5" paint-order="stroke"/>
<use href="#L_baffin" fill="#f28f1f" stroke="#7c400d" stroke-width="1.5" paint-order="stroke"/>
<use href="#L_bathurst" fill="#f28f1f" stroke="#7c400d" stroke-width="1.5" paint-order="stroke"/>
<use href="#L_bathurst2" fill="#f28f1f" stroke="#7c400d" stroke-width="1.5" paint-order="stroke"/>
<use href="#L_southampton" fill="#f28f1f" stroke="#7c400d" stroke-width="1.5" paint-order="stroke"/>
<use href="#L_foxe" fill="#f28f1f" stroke="#7c400d" stroke-width="1.5" paint-order="stroke"/>
<use href="#L_newfoundland" fill="#f28f1f" stroke="#7c400d" stroke-width="1.5" paint-order="stroke"/>
<use href="#L_cuba" fill="#91cae3" stroke="#2f7088" stroke-width="1.5" paint-order="stroke"/>
<use href="#L_hispaniola" fill="#91cae3" stroke="#2f7088" stroke-width="1.5" paint-order="stroke"/>
<use href="#L_jamaica" fill="#91cae3" stroke="#2f7088" stroke-width="1.5" paint-order="stroke"/>
<use href="#L_madagascar" fill="#91cae3" stroke="#2f7088" stroke-width="1.5" paint-order="stroke"/>
<use href="#L_iceland" fill="#f28f1f" stroke="#7c400d" stroke-width="1.5" paint-order="stroke"/>
<use href="#L_gb" fill="#f28f1f" stroke="#7c400d" stroke-width="1.5" paint-order="stroke"/>
<use href="#L_ireland" fill="#f28f1f" stroke="#7c400d" stroke-width="1.5" paint-order="stroke"/>
<use href="#L_sardinia" fill="#f28f1f" stroke="#7c400d" stroke-width="1.5" paint-order="stroke"/>
<use href="#L_sicily" fill="#f28f1f" stroke="#7c400d" stroke-width="1.5" paint-order="stroke"/>
<use href="#L_crete" fill="#5dac76" stroke="#27624f" stroke-width="1.5" paint-order="stroke"/>
<use href="#L_cyprus" fill="#91cae3" stroke="#2f7088" stroke-width="1.5" paint-order="stroke"/>
<use href="#L_svalbard" fill="#f28f1f" stroke="#7c400d" stroke-width="1.5" paint-order="stroke"/>
<use href="#L_fjl" fill="#5dac76" stroke="#27624f" stroke-width="1.5" paint-order="stroke"/>
<use href="#L_novaya" fill="#5dac76" stroke="#27624f" stroke-width="1.5" paint-order="stroke"/>
<use href="#L_severnaya" fill="#5dac76" stroke="#27624f" stroke-width="1.5" paint-order="stroke"/>
<use href="#L_newsib1" fill="#5dac76" stroke="#27624f" stroke-width="1.5" paint-order="stroke"/>
<use href="#L_newsib2" fill="#5dac76" stroke="#27624f" stroke-width="1.5" paint-order="stroke"/>
<use href="#L_wrangel" fill="#5dac76" stroke="#27624f" stroke-width="1.5" paint-order="stroke"/>
<use href="#L_sakhalin" fill="#5dac76" stroke="#27624f" stroke-width="1.5" paint-order="stroke"/>
<use href="#L_hokkaido" fill="#f28f1f" stroke="#7c400d" stroke-width="1.5" paint-order="stroke"/>
<use href="#L_honshu" fill="#f28f1f" stroke="#7c400d" stroke-width="1.5" paint-order="stroke"/>
<use href="#L_srilanka" fill="#91cae3" stroke="#2f7088" stroke-width="1.5" paint-order="stroke"/>
<use href="#L_taiwan" fill="#91cae3" stroke="#2f7088" stroke-width="1.5" paint-order="stroke"/>
<use href="#L_hainan" fill="#91cae3" stroke="#2f7088" stroke-width="1.5" paint-order="stroke"/>
<use href="#L_australia" fill="#f28f1f" stroke="#7c400d" stroke-width="2.0" paint-order="stroke"/>
<use href="#L_tasmania" fill="#f28f1f" stroke="#7c400d" stroke-width="1.5" paint-order="stroke"/>
<use href="#L_nz_n" fill="#f28f1f" stroke="#7c400d" stroke-width="1.5" paint-order="stroke"/>
<use href="#L_nz_s" fill="#f28f1f" stroke="#7c400d" stroke-width="1.5" paint-order="stroke"/>
<use href="#L_sumatra" fill="#91cae3" stroke="#2f7088" stroke-width="1.5" paint-order="stroke"/>
<use href="#L_java" fill="#91cae3" stroke="#2f7088" stroke-width="1.5" paint-order="stroke"/>
<use href="#L_sunda" fill="#91cae3" stroke="#2f7088" stroke-width="1.5" paint-order="stroke"/>
<use href="#L_borneo" fill="#91cae3" stroke="#2f7088" stroke-width="1.5" paint-order="stroke"/>
<use href="#L_sulawesi" fill="#91cae3" stroke="#2f7088" stroke-width="1.5" paint-order="stroke"/>
<use href="#L_luzon" fill="#91cae3" stroke="#2f7088" stroke-width="1.5" paint-order="stroke"/>
<use href="#L_visayas" fill="#91cae3" stroke="#2f7088" stroke-width="1.5" paint-order="stroke"/>
<use href="#L_palawan" fill="#91cae3" stroke="#2f7088" stroke-width="1.5" paint-order="stroke"/>
<use href="#L_halmahera" fill="#91cae3" stroke="#2f7088" stroke-width="1.5" paint-order="stroke"/>
<use href="#L_seram" fill="#91cae3" stroke="#2f7088" stroke-width="1.5" paint-order="stroke"/>
<g mask="url(#M_africa)">
<use href="#L_africa" fill="#2f7088" stroke="#2f7088" stroke-width="3"/>
<use href="#P18" fill="#27624f" stroke="#27624f" stroke-width="3"/>
<use href="#P29" fill="#27624f" stroke="#27624f" stroke-width="3"/>
</g>
<g clip-path="url(#C_africa)">
<use href="#L_africa" fill="#91cae3"/>
<use href="#P13" fill="#91cae3" stroke="#2f7088" stroke-width="0.7"/>
<use href="#P14" fill="#91cae3" stroke="#2f7088" stroke-width="0.7"/>
<use href="#P15" fill="#91cae3" stroke="#2f7088" stroke-width="0.7"/>
<use href="#P16" fill="#91cae3" stroke="#2f7088" stroke-width="0.7"/>
<use href="#P17" fill="#91cae3" stroke="#2f7088" stroke-width="0.7"/>
<use href="#P18" fill="#5dac76" stroke="#27624f" stroke-width="0.7"/>
<use href="#P19" fill="#91cae3" stroke="#2f7088" stroke-width="0.7"/>
<use href="#P20" fill="#91cae3" stroke="#2f7088" stroke-width="0.7"/>
<use href="#P21" fill="#91cae3" stroke="#2f7088" stroke-width="0.7"/>
<use href="#P22" fill="#91cae3" stroke="#2f7088" stroke-width="0.7"/>
<use href="#P23" fill="#91cae3" stroke="#2f7088" stroke-width="0.7"/>
<use href="#P24" fill="#91cae3" stroke="#2f7088" stroke-width="0.7"/>
<use href="#P25" fill="#91cae3" stroke="#2f7088" stroke-width="0.7"/>
<use href="#P26" fill="#91cae3" stroke="#2f7088" stroke-width="0.7"/>
<use href="#P27" fill="#91cae3" stroke="#2f7088" stroke-width="0.7"/>
<use href="#P28" fill="#91cae3" stroke="#2f7088" stroke-width="0.7"/>
<use href="#P29" fill="#5dac76" stroke="#27624f" stroke-width="0.7"/>
<path d="M303.8,350.0 303.8,366.2 286.9,366.2" fill="none" stroke="#2f7088" stroke-width="0.8"/>
<path d="M291.9,355.0 296.2,355.0 296.2,350.0 303.8,350.0" fill="none" stroke="#2f7088" stroke-width="0.8"/>
<path d="M320.0,360.6 319.8,365.0 311.9,368.5 305.0,371.2" fill="none" stroke="#2f7088" stroke-width="0.8"/>
<path d="M337.5,355.0 338.5,360.0 335.0,365.0 336.9,372.0" fill="none" stroke="#2f7088" stroke-width="0.8"/>
<path d="M353.1,358.8 352.2,365.0 350.6,372.0" fill="none" stroke="#2f7088" stroke-width="0.8"/>
<path d="M372.5,356.2 375.0,360.0" fill="none" stroke="#2f7088" stroke-width="0.8"/>
<path d="M332.2,416.0 347.8,416.5 347.0,428.5" fill="none" stroke="#2f7088" stroke-width="0.8"/>
<path d="M347.8,416.5 356.4,416.8 359.5,423.3" fill="none" stroke="#2f7088" stroke-width="0.8"/>
<path d="M366.2,418.3 371.2,416.8 374.4,417.6" fill="none" stroke="#2f7088" stroke-width="0.8"/>
<path d="M340.0,384.0 341.6,390.2 340.0,398.0" fill="none" stroke="#2f7088" stroke-width="0.8"/>
<path d="M328.3,385.9 332.2,390.2 340.0,391.0 341.6,384.0" fill="none" stroke="#2f7088" stroke-width="0.8"/>
<path d="M361.9,384.3 361.1,392.6 361.9,403.5" fill="none" stroke="#2f7088" stroke-width="0.8"/>
<path d="M361.1,392.6 369.7,394.1 377.5,396.5" fill="none" stroke="#2f7088" stroke-width="0.8"/>
<path d="M366.6,404.3 372.8,405.8 378.3,406.6" fill="none" stroke="#2f7088" stroke-width="0.8"/>
<path d="M286.9,368.4 293.9,369.2 294.7,374.6 300.6,374.6" fill="none" stroke="#2f7088" stroke-width="0.8"/>
<path d="M294.7,374.6 296.2,380.1" fill="none" stroke="#2f7088" stroke-width="0.8"/>
<path d="M304.1,359.0 304.8,366.0 293.9,366.5" fill="none" stroke="#2f7088" stroke-width="0.8"/>
<path d="M304.8,366.0 313.4,367.6 318.9,370.2" fill="none" stroke="#2f7088" stroke-width="0.8"/>
<path d="M335.6,370.2 340.0,365.2 337.7,359.0" fill="none" stroke="#2f7088" stroke-width="0.8"/>
<path d="M352.5,375.4 349.4,368.4 350.9,359.0" fill="none" stroke="#2f7088" stroke-width="0.8"/>
<path d="M371.2,369.2 372.8,363.7 372.0,359.0" fill="none" stroke="#2f7088" stroke-width="0.8"/>
<path d="M380.6,384.0 385.3,387.1" fill="none" stroke="#2f7088" stroke-width="0.8"/>
<path d="M381.4,371.2 387.7,377.7" fill="none" stroke="#2f7088" stroke-width="0.8"/>
</g>
<g mask="url(#M_eurasia)">
<use href="#L_eurasia" fill="#27624f" stroke="#27624f" stroke-width="3"/>
<use href="#P30" fill="#7c400d" stroke="#7c400d" stroke-width="3"/>
<use href="#P31" fill="#2f7088" stroke="#2f7088" stroke-width="3"/>
<use href="#P32" fill="#2f7088" stroke="#2f7088" stroke-width="3"/>
<use href="#P36" fill="#2f7088" stroke="#2f7088" stroke-width="3"/>
<use href="#P37" fill="#2f7088" stroke="#2f7088" stroke-width="3"/>
<use href="#P38" fill="#2f7088" stroke="#2f7088" stroke-width="3"/>
<use href="#P39" fill="#2f7088" stroke="#2f7088" stroke-width="3"/>
<use href="#P41" fill="#2f7088" stroke="#2f7088" stroke-width="3"/>
<use href="#P42" fill="#2f7088" stroke="#2f7088" stroke-width="3"/>
<use href="#P44" fill="#2f7088" stroke="#2f7088" stroke-width="3"/>
<use href="#P45" fill="#2f7088" stroke="#2f7088" stroke-width="3"/>
<use href="#P46" fill="#2f7088" stroke="#2f7088" stroke-width="3"/>
<use href="#P47" fill="#2f7088" stroke="#2f7088" stroke-width="3"/>
<use href="#P48" fill="#2f7088" stroke="#2f7088" stroke-width="3"/>
<use href="#P51" fill="#2f7088" stroke="#2f7088" stroke-width="3"/>
<use href="#P53" fill="#2f7088" stroke="#2f7088" stroke-width="3"/>
<use href="#P54" fill="#2f7088" stroke="#2f7088" stroke-width="3"/>
<use href="#P55" fill="#2f7088" stroke="#2f7088" stroke-width="3"/>
<use href="#P56" fill="#7c400d" stroke="#7c400d" stroke-width="3"/>
</g>
<g clip-path="url(#C_eurasia)">
<use href="#L_eurasia" fill="#5dac76"/>
<use href="#P30" fill="#f28f1f" stroke="#7c400d" stroke-width="0.7"/>
<use href="#P31" fill="#91cae3" stroke="#2f7088" stroke-width="0.7"/>
<use href="#P32" fill="#91cae3" stroke="#2f7088" stroke-width="0.7"/>
<use href="#P33" fill="#5dac76" stroke="#27624f" stroke-width="0.7"/>
<use href="#P34" fill="#5dac76" stroke="#27624f" stroke-width="0.7"/>
<use href="#P35" fill="#5dac76" stroke="#27624f" stroke-width="0.7"/>
<use href="#P36" fill="#91cae3" stroke="#2f7088" stroke-width="0.7"/>
<use href="#P37" fill="#91cae3" stroke="#2f7088" stroke-width="0.7"/>
<use href="#P38" fill="#91cae3" stroke="#2f7088" stroke-width="0.7"/>
<use href="#P39" fill="#91cae3" stroke="#2f7088" stroke-width="0.7"/>
<use href="#P40" fill="#5dac76" stroke="#27624f" stroke-width="0.7"/>
<use href="#P41" fill="#91cae3" stroke="#2f7088" stroke-width="0.7"/>
<use href="#P42" fill="#91cae3" stroke="#2f7088" stroke-width="0.7"/>
<use href="#P43" fill="#5dac76" stroke="#27624f" stroke-width="0.7"/>
<use href="#P44" fill="#91cae3" stroke="#2f7088" stroke-width="0.7"/>
<use href="#P45" fill="#91cae3" stroke="#2f7088" stroke-width="0.7"/>
<use href="#P46" fill="#91cae3" stroke="#2f7088" stroke-width="0.7"/>
<use href="#P47" fill="#91cae3" stroke="#2f7088" stroke-width="0.7"/>
<use href="#P48" fill="#91cae3" stroke="#2f7088" stroke-width="0.7"/>
<use href="#P51" fill="#91cae3" stroke="#2f7088" stroke-width="0.7"/>
<use href="#P52" fill="#5dac76" stroke="#27624f" stroke-width="0.7"/>
<use href="#P53" fill="#91cae3" stroke="#2f7088" stroke-width="0.7"/>
<use href="#P54" fill="#91cae3" stroke="#2f7088" stroke-width="0.7"/>
<use href="#P55" fill="#91cae3" stroke="#2f7088" stroke-width="0.7"/>
<use href="#P56" fill="#f28f1f" stroke="#7c400d" stroke-width="0.7"/>
<path d="M501.2,318.1 503.1,310.0" fill="none" stroke="#27624f" stroke-width="0.8"/>
<path d="M298.8,323.8 300.0,328.8 298.8,333.1" fill="none" stroke="#7c400d" stroke-width="0.8"/>
<path d="M306.9,323.8 311.2,324.0 317.5,324.8" fill="none" stroke="#7c400d" stroke-width="0.8"/>
<path d="M321.9,308.1 321.2,313.8 322.5,317.5 321.2,321.2 326.2,322.5" fill="none" stroke="#7c400d" stroke-width="0.8"/>
<path d="M322.5,317.5 328.8,318.8 335.6,320.0" fill="none" stroke="#7c400d" stroke-width="0.8"/>
<path d="M335.0,307.5 335.6,314.4 338.8,315.0" fill="none" stroke="#7c400d" stroke-width="0.8"/>
<path d="M341.2,282.8 345.6,286.9 343.1,292.5 341.9,297.5" fill="none" stroke="#7c400d" stroke-width="0.8"/>
<path d="M353.8,279.6 352.5,284.4 350.0,288.1" fill="none" stroke="#7c400d" stroke-width="0.8"/>
<path d="M351.2,310.0 357.5,310.6" fill="none" stroke="#2f7088" stroke-width="0.8"/>
<path d="M348.1,323.8 353.8,322.5 360.0,321.2" fill="none" stroke="#2f7088" stroke-width="0.8"/>
<path d="M353.8,322.5 353.1,316.2" fill="none" stroke="#2f7088" stroke-width="0.8"/>
<path d="M403.8,323.8 411.2,318.8 418.8,320.0 425.0,323.8 431.9,325.0 437.5,325.6" fill="none" stroke="#2f7088" stroke-width="0.8"/>
<path d="M418.8,326.2 425.0,327.5 432.5,328.8" fill="none" stroke="#2f7088" stroke-width="0.8"/>
<path d="M463.8,365.0 465.0,360.0 468.1,357.5 470.0,353.8" fill="none" stroke="#2f7088" stroke-width="0.8"/>
<path d="M468.1,357.5 472.5,360.0 475.0,365.0 480.0,366.2" fill="none" stroke="#2f7088" stroke-width="0.8"/>
<path d="M473.8,368.8 476.2,365.0 475.0,360.0" fill="none" stroke="#2f7088" stroke-width="0.8"/>
</g>
<g mask="url(#M_na)">
<use href="#L_na" fill="#7c400d" stroke="#7c400d" stroke-width="3"/>
<use href="#P0" fill="#27624f" stroke="#27624f" stroke-width="3"/>
<use href="#P1" fill="#2f7088" stroke="#2f7088" stroke-width="3"/>
</g>
<g clip-path="url(#C_na)">
<use href="#L_na" fill="#f28f1f"/>
<use href="#P0" fill="#5dac76" stroke="#27624f" stroke-width="0.7"/>
<use href="#P1" fill="#91cae3" stroke="#2f7088" stroke-width="0.7"/>
<path d="M117.3,315.1 168.1,315.3 172.8,317.5 180.6,323.7 190.0,322.8 196.2,320.3 200.9,316.4 205.6,314.8 208.4,315.3" fill="none" stroke="#7c400d" stroke-width="0.8"/>
<path d="M90.2,281.9 90.3,296.8" fill="none" stroke="#7c400d" stroke-width="0.8"/>
</g>
<g mask="url(#M_newguinea)">
<use href="#L_newguinea" fill="#2f7088" stroke="#2f7088" stroke-width="3"/>
</g>
<g clip-path="url(#C_newguinea)">
<use href="#L_newguinea" fill="#91cae3"/>
<use href="#P57" fill="#91cae3" stroke="#2f7088" stroke-width="0.7"/>
</g>
<g mask="url(#M_sa)">
<use href="#L_sa" fill="#27624f" stroke="#27624f" stroke-width="3"/>
<use href="#P4" fill="#2f7088" stroke="#2f7088" stroke-width="3"/>
<use href="#P5" fill="#2f7088" stroke="#2f7088" stroke-width="3"/>
<use href="#P6" fill="#2f7088" stroke="#2f7088" stroke-width="3"/>
<use href="#P7" fill="#2f7088" stroke="#2f7088" stroke-width="3"/>
<use href="#P8" fill="#2f7088" stroke="#2f7088" stroke-width="3"/>
<use href="#P9" fill="#2f7088" stroke="#2f7088" stroke-width="3"/>
<use href="#P10" fill="#2f7088" stroke="#2f7088" stroke-width="3"/>
</g>
<g clip-path="url(#C_sa)">
<use href="#L_sa" fill="#5dac76"/>
<use href="#P3" fill="#5dac76" stroke="#27624f" stroke-width="0.7"/>
<use href="#P4" fill="#91cae3" stroke="#2f7088" stroke-width="0.7"/>
<use href="#P5" fill="#91cae3" stroke="#2f7088" stroke-width="0.7"/>
<use href="#P6" fill="#91cae3" stroke="#2f7088" stroke-width="0.7"/>
<use href="#P7" fill="#91cae3" stroke="#2f7088" stroke-width="0.7"/>
<use href="#P8" fill="#91cae3" stroke="#2f7088" stroke-width="0.7"/>
<use href="#P9" fill="#91cae3" stroke="#2f7088" stroke-width="0.7"/>
<use href="#P10" fill="#91cae3" stroke="#2f7088" stroke-width="0.7"/>
<use href="#P11" fill="#5dac76" stroke="#27624f" stroke-width="0.7"/>
<use href="#P12" fill="#5dac76" stroke="#27624f" stroke-width="0.7"/>
<path d="M203.8,418.8 204.4,423.8 202.5,430.0 201.2,436.2 200.0,442.5 199.4,448.8 198.8,455.0 198.1,461.2 198.1,466.2 200.0,470.0 202.5,471.9" fill="none" stroke="#27624f" stroke-width="0.8"/>
<path d="M184.4,389.8 188.1,390.6 191.9,390.2 193.8,391.2" fill="none" stroke="#2f7088" stroke-width="0.8"/>
</g>
<path d="M358.8,322.5 361.2,320.6 363.8,320.0 367.5,321.2 368.8,318.8 372.5,318.1 375.0,319.4 378.8,321.2 382.5,323.8 383.8,326.2 380.0,326.9 372.5,326.9 365.0,326.9 360.0,326.0Z" fill="#edf5f8" stroke="#5d7f88" stroke-width="0.5"/>
<path d="M388.8,319.4 392.5,318.5 397.5,319.4 398.8,321.2 396.2,322.5 395.0,325.0 397.5,328.1 398.8,331.2 397.5,333.8 393.8,333.1 391.9,330.0 391.2,326.2 389.4,322.5Z" fill="#edf5f8" stroke="#5d7f88" stroke-width="0.5"/>
<path d="M168.9,316.8 172.8,315.9 177.5,317.5 175.9,319.0 171.2,318.7Z" fill="#edf5f8" stroke="#5d7f88" stroke-width="0.5"/>
<path d="M173.6,319.5 175.6,319.5 176.2,325.7 174.4,326.5Z" fill="#edf5f8" stroke="#5d7f88" stroke-width="0.5"/>
<path d="M178.3,319.5 183.0,320.0 184.5,323.4 181.4,325.0 179.1,322.6Z" fill="#edf5f8" stroke="#5d7f88" stroke-width="0.5"/>
<path d="M185.3,322.1 193.9,321.5 194.7,323.1 186.9,324.2Z" fill="#edf5f8" stroke="#5d7f88" stroke-width="0.5"/>
<path d="M551.7,394.1 554.8,394.6 555.6,396.8 553.8,398.4 552.5,398.0 554.1,396.5 553.3,395.2Z" fill="#5d7f88" stroke="#5d7f88" stroke-width="0.5"/>
<path d="M558.4,398.0 563.4,400.4 568.9,404.3 570.0,405.8 568.1,405.5 562.7,401.9 558.0,399.3Z" fill="#5d7f88" stroke="#5d7f88" stroke-width="0.5"/>
<path d="M575.9,412.1 578.3,414.0 577.5,414.9 575.3,412.9Z" fill="#5d7f88" stroke="#5d7f88" stroke-width="0.5"/>
<path d="M573.1,419.9 577.2,422.2 576.6,423.3 572.5,421.0Z" fill="#5d7f88" stroke="#5d7f88" stroke-width="0.5"/>
<path d="M593.1,416.5 597.5,414.0 598.1,415.2 593.9,417.7Z" fill="#5d7f88" stroke="#5d7f88" stroke-width="0.5"/>
<path d="M41.9,291.4 45.5,291.9 45.9,292.9 42.3,292.6Z" fill="#5d7f88" stroke="#5d7f88" stroke-width="0.5"/>
<path d="M102.5,307.5 104.4,307.2 105.0,309.7 103.1,310.0Z" fill="#5d7f88" stroke="#5d7f88" stroke-width="0.5"/>
<path d="M60.3,356.7 65.0,357.4 67.3,359.0 63.4,358.7Z" fill="#5d7f88" stroke="#5d7f88" stroke-width="0.5"/>
</g>
<g transform="translate(640,0)" stroke-linejoin="round">
<use href="#L_baja" fill="#db2719" stroke="#821910" stroke-width="1.5" paint-order="stroke"/>
<use href="#L_greenland" fill="#db2719" stroke="#821910" stroke-width="2.0" paint-order="stroke"/>
<use href="#L_banks" fill="#db2719" stroke="#821910" stroke-width="1.5" paint-order="stroke"/>
<use href="#L_melville" fill="#db2719" stroke="#821910" stroke-width="1.5" paint-order="stroke"/>
<use href="#L_victoria" fill="#db2719" stroke="#821910" stroke-width="1.5" paint-order="stroke"/>
<use href="#L_somerset" fill="#db2719" stroke="#821910" stroke-width="1.5" paint-order="stroke"/>
<use href="#L_devon" fill="#db2719" stroke="#821910" stroke-width="1.5" paint-order="stroke"/>
<use href="#L_ellesmere" fill="#db2719" stroke="#821910" stroke-width="1.5" paint-order="stroke"/>
<use href="#L_baffin" fill="#db2719" stroke="#821910" stroke-width="1.5" paint-order="stroke"/>
<use href="#L_bathurst" fill="#db2719" stroke="#821910" stroke-width="1.5" paint-order="stroke"/>
<use href="#L_bathurst2" fill="#db2719" stroke="#821910" stroke-width="1.5" paint-order="stroke"/>
<use href="#L_southampton" fill="#db2719" stroke="#821910" stroke-width="1.5" paint-order="stroke"/>
<use href="#L_foxe" fill="#db2719" stroke="#821910" stroke-width="1.5" paint-order="stroke"/>
<use href="#L_newfoundland" fill="#db2719" stroke="#821910" stroke-width="1.5" paint-order="stroke"/>
<use href="#L_cuba" fill="#db2719" stroke="#821910" stroke-width="1.5" paint-order="stroke"/>
<use href="#L_hispaniola" fill="#db2719" stroke="#821910" stroke-width="1.5" paint-order="stroke"/>
<use href="#L_jamaica" fill="#db2719" stroke="#821910" stroke-width="1.5" paint-order="stroke"/>
<use href="#L_madagascar" fill="#5dac76" stroke="#27624f" stroke-width="1.5" paint-order="stroke"/>
<use href="#L_iceland" fill="#db2719" stroke="#821910" stroke-width="1.5" paint-order="stroke"/>
<use href="#L_gb" fill="#db2719" stroke="#821910" stroke-width="1.5" paint-order="stroke"/>
<use href="#L_ireland" fill="#db2719" stroke="#821910" stroke-width="1.5" paint-order="stroke"/>
<use href="#L_sardinia" fill="#db2719" stroke="#821910" stroke-width="1.5" paint-order="stroke"/>
<use href="#L_sicily" fill="#db2719" stroke="#821910" stroke-width="1.5" paint-order="stroke"/>
<use href="#L_crete" fill="#db2719" stroke="#821910" stroke-width="1.5" paint-order="stroke"/>
<use href="#L_cyprus" fill="#f28f1f" stroke="#7c400d" stroke-width="1.5" paint-order="stroke"/>
<use href="#L_svalbard" fill="#db2719" stroke="#821910" stroke-width="1.5" paint-order="stroke"/>
<use href="#L_fjl" fill="#db2719" stroke="#821910" stroke-width="1.5" paint-order="stroke"/>
<use href="#L_novaya" fill="#db2719" stroke="#821910" stroke-width="1.5" paint-order="stroke"/>
<use href="#L_severnaya" fill="#db2719" stroke="#821910" stroke-width="1.5" paint-order="stroke"/>
<use href="#L_newsib1" fill="#db2719" stroke="#821910" stroke-width="1.5" paint-order="stroke"/>
<use href="#L_newsib2" fill="#db2719" stroke="#821910" stroke-width="1.5" paint-order="stroke"/>
<use href="#L_wrangel" fill="#db2719" stroke="#821910" stroke-width="1.5" paint-order="stroke"/>
<use href="#L_sakhalin" fill="#db2719" stroke="#821910" stroke-width="1.5" paint-order="stroke"/>
<use href="#L_hokkaido" fill="#db2719" stroke="#821910" stroke-width="1.5" paint-order="stroke"/>
<use href="#L_honshu" fill="#db2719" stroke="#821910" stroke-width="1.5" paint-order="stroke"/>
<use href="#L_srilanka" fill="#f28f1f" stroke="#7c400d" stroke-width="1.5" paint-order="stroke"/>
<use href="#L_taiwan" fill="#5dac76" stroke="#27624f" stroke-width="1.5" paint-order="stroke"/>
<use href="#L_hainan" fill="#5dac76" stroke="#27624f" stroke-width="1.5" paint-order="stroke"/>
<use href="#L_australia" fill="#db2719" stroke="#821910" stroke-width="2.0" paint-order="stroke"/>
<use href="#L_tasmania" fill="#db2719" stroke="#821910" stroke-width="1.5" paint-order="stroke"/>
<use href="#L_nz_n" fill="#db2719" stroke="#821910" stroke-width="1.5" paint-order="stroke"/>
<use href="#L_nz_s" fill="#db2719" stroke="#821910" stroke-width="1.5" paint-order="stroke"/>
<use href="#L_sumatra" fill="#f28f1f" stroke="#7c400d" stroke-width="1.5" paint-order="stroke"/>
<use href="#L_java" fill="#f28f1f" stroke="#7c400d" stroke-width="1.5" paint-order="stroke"/>
<use href="#L_sunda" fill="#f28f1f" stroke="#7c400d" stroke-width="1.5" paint-order="stroke"/>
<use href="#L_borneo" fill="#f28f1f" stroke="#7c400d" stroke-width="1.5" paint-order="stroke"/>
<use href="#L_sulawesi" fill="#f28f1f" stroke="#7c400d" stroke-width="1.5" paint-order="stroke"/>
<use href="#L_luzon" fill="#f28f1f" stroke="#7c400d" stroke-width="1.5" paint-order="stroke"/>
<use href="#L_visayas" fill="#f28f1f" stroke="#7c400d" stroke-width="1.5" paint-order="stroke"/>
<use href="#L_palawan" fill="#f28f1f" stroke="#7c400d" stroke-width="1.5" paint-order="stroke"/>
<use href="#L_halmahera" fill="#f28f1f" stroke="#7c400d" stroke-width="1.5" paint-order="stroke"/>
<use href="#L_seram" fill="#f28f1f" stroke="#7c400d" stroke-width="1.5" paint-order="stroke"/>
<g mask="url(#M_africa)">
<use href="#L_africa" fill="#27624f" stroke="#27624f" stroke-width="3"/>
<use href="#P13" fill="#7c400d" stroke="#7c400d" stroke-width="3"/>
<use href="#P14" fill="#821910" stroke="#821910" stroke-width="3"/>
<use href="#P15" fill="#7c400d" stroke="#7c400d" stroke-width="3"/>
<use href="#P16" fill="#7c400d" stroke="#7c400d" stroke-width="3"/>
<use href="#P17" fill="#7c400d" stroke="#7c400d" stroke-width="3"/>
<use href="#P18" fill="#7c400d" stroke="#7c400d" stroke-width="3"/>
<use href="#P19" fill="#7c400d" stroke="#7c400d" stroke-width="3"/>
<use href="#P20" fill="#7c400d" stroke="#7c400d" stroke-width="3"/>
<use href="#P21" fill="#7c400d" stroke="#7c400d" stroke-width="3"/>
<use href="#P22" fill="#7c400d" stroke="#7c400d" stroke-width="3"/>
<use href="#P23" fill="#7c400d" stroke="#7c400d" stroke-width="3"/>
<use href="#P24" fill="#7c400d" stroke="#7c400d" stroke-width="3"/>
<use href="#P25" fill="#7c400d" stroke="#7c400d" stroke-width="3"/>
<use href="#P26" fill="#7c400d" stroke="#7c400d" stroke-width="3"/>
<use href="#P27" fill="#7c400d" stroke="#7c400d" stroke-width="3"/>
<use href="#P28" fill="#8a2a14" stroke="#8a2a14" stroke-width="3"/>
<use href="#P29" fill="#821910" stroke="#821910" stroke-width="3"/>
</g>
<g clip-path="url(#C_africa)">
<use href="#L_africa" fill="#5dac76"/>
<use href="#P13" fill="#f28f1f" stroke="#7c400d" stroke-width="0.7"/>
<use href="#P14" fill="#db2719" stroke="#821910" stroke-width="0.7"/>
<use href="#P15" fill="#f28f1f" stroke="#7c400d" stroke-width="0.7"/>
<use href="#P16" fill="#f28f1f" stroke="#7c400d" stroke-width="0.7"/>
<use href="#P17" fill="#f28f1f" stroke="#7c400d" stroke-width="0.7"/>
<use href="#P18" fill="#f28f1f" stroke="#7c400d" stroke-width="0.7"/>
<use href="#P19" fill="#f28f1f" stroke="#7c400d" stroke-width="0.7"/>
<use href="#P20" fill="#f28f1f" stroke="#7c400d" stroke-width="0.7"/>
<use href="#P21" fill="#f28f1f" stroke="#7c400d" stroke-width="0.7"/>
<use href="#P22" fill="#f28f1f" stroke="#7c400d" stroke-width="0.7"/>
<use href="#P23" fill="#f28f1f" stroke="#7c400d" stroke-width="0.7"/>
<use href="#P24" fill="#f28f1f" stroke="#7c400d" stroke-width="0.7"/>
<use href="#P25" fill="#f28f1f" stroke="#7c400d" stroke-width="0.7"/>
<use href="#P26" fill="#f28f1f" stroke="#7c400d" stroke-width="0.7"/>
<use href="#P27" fill="#f28f1f" stroke="#7c400d" stroke-width="0.7"/>
<use href="#P28" fill="#e74a2c" stroke="#8a2a14" stroke-width="0.7"/>
<use href="#P29" fill="#db2719" stroke="#821910" stroke-width="0.7"/>
<path d="M303.8,350.0 303.8,366.2 286.9,366.2" fill="none" stroke="#27624f" stroke-width="0.8"/>
<path d="M291.9,355.0 296.2,355.0 296.2,350.0 303.8,350.0" fill="none" stroke="#27624f" stroke-width="0.8"/>
<path d="M320.0,360.6 319.8,365.0 311.9,368.5 305.0,371.2" fill="none" stroke="#27624f" stroke-width="0.8"/>
<path d="M337.5,355.0 338.5,360.0 335.0,365.0 336.9,372.0" fill="none" stroke="#27624f" stroke-width="0.8"/>
<path d="M353.1,358.8 352.2,365.0 350.6,372.0" fill="none" stroke="#27624f" stroke-width="0.8"/>
<path d="M372.5,356.2 375.0,360.0" fill="none" stroke="#27624f" stroke-width="0.8"/>
<path d="M332.2,416.0 347.8,416.5 347.0,428.5" fill="none" stroke="#27624f" stroke-width="0.8"/>
<path d="M347.8,416.5 356.4,416.8 359.5,423.3" fill="none" stroke="#27624f" stroke-width="0.8"/>
<path d="M366.2,418.3 371.2,416.8 374.4,417.6" fill="none" stroke="#27624f" stroke-width="0.8"/>
<path d="M340.0,384.0 341.6,390.2 340.0,398.0" fill="none" stroke="#27624f" stroke-width="0.8"/>
<path d="M328.3,385.9 332.2,390.2 340.0,391.0 341.6,384.0" fill="none" stroke="#27624f" stroke-width="0.8"/>
<path d="M361.9,384.3 361.1,392.6 361.9,403.5" fill="none" stroke="#27624f" stroke-width="0.8"/>
<path d="M361.1,392.6 369.7,394.1 377.5,396.5" fill="none" stroke="#27624f" stroke-width="0.8"/>
<path d="M366.6,404.3 372.8,405.8 378.3,406.6" fill="none" stroke="#27624f" stroke-width="0.8"/>
<path d="M286.9,368.4 293.9,369.2 294.7,374.6 300.6,374.6" fill="none" stroke="#27624f" stroke-width="0.8"/>
<path d="M294.7,374.6 296.2,380.1" fill="none" stroke="#27624f" stroke-width="0.8"/>
<path d="M304.1,359.0 304.8,366.0 293.9,366.5" fill="none" stroke="#27624f" stroke-width="0.8"/>
<path d="M304.8,366.0 313.4,367.6 318.9,370.2" fill="none" stroke="#27624f" stroke-width="0.8"/>
<path d="M335.6,370.2 340.0,365.2 337.7,359.0" fill="none" stroke="#27624f" stroke-width="0.8"/>
<path d="M352.5,375.4 349.4,368.4 350.9,359.0" fill="none" stroke="#27624f" stroke-width="0.8"/>
<path d="M371.2,369.2 372.8,363.7 372.0,359.0" fill="none" stroke="#27624f" stroke-width="0.8"/>
<path d="M380.6,384.0 385.3,387.1" fill="none" stroke="#27624f" stroke-width="0.8"/>
<path d="M381.4,371.2 387.7,377.7" fill="none" stroke="#27624f" stroke-width="0.8"/>
</g>
<g mask="url(#M_eurasia)">
<use href="#L_eurasia" fill="#821910" stroke="#821910" stroke-width="3"/>
<use href="#P32" fill="#7c400d" stroke="#7c400d" stroke-width="3"/>
<use href="#P35" fill="#7c400d" stroke="#7c400d" stroke-width="3"/>
<use href="#P37" fill="#27624f" stroke="#27624f" stroke-width="3"/>
<use href="#P38" fill="#7c400d" stroke="#7c400d" stroke-width="3"/>
<use href="#P39" fill="#7c400d" stroke="#7c400d" stroke-width="3"/>
<use href="#P41" fill="#27624f" stroke="#27624f" stroke-width="3"/>
<use href="#P42" fill="#7c400d" stroke="#7c400d" stroke-width="3"/>
<use href="#P43" fill="#27624f" stroke="#27624f" stroke-width="3"/>
<use href="#P44" fill="#7c400d" stroke="#7c400d" stroke-width="3"/>
<use href="#P45" fill="#27624f" stroke="#27624f" stroke-width="3"/>
<use href="#P46" fill="#27624f" stroke="#27624f" stroke-width="3"/>
<use href="#P47" fill="#7c400d" stroke="#7c400d" stroke-width="3"/>
<use href="#P48" fill="#7c400d" stroke="#7c400d" stroke-width="3"/>
<use href="#P49" fill="#27624f" stroke="#27624f" stroke-width="3"/>
<use href="#P50" fill="#27624f" stroke="#27624f" stroke-width="3"/>
<use href="#P51" fill="#7c400d" stroke="#7c400d" stroke-width="3"/>
<use href="#P52" fill="#27624f" stroke="#27624f" stroke-width="3"/>
<use href="#P53" fill="#7c400d" stroke="#7c400d" stroke-width="3"/>
<use href="#P54" fill="#27624f" stroke="#27624f" stroke-width="3"/>
<use href="#P55" fill="#27624f" stroke="#27624f" stroke-width="3"/>
</g>
<g clip-path="url(#C_eurasia)">
<use href="#L_eurasia" fill="#db2719"/>
<use href="#P30" fill="#db2719" stroke="#821910" stroke-width="0.7"/>
<use href="#P31" fill="#db2719" stroke="#821910" stroke-width="0.7"/>
<use href="#P32" fill="#f28f1f" stroke="#7c400d" stroke-width="0.7"/>
<use href="#P35" fill="#f28f1f" stroke="#7c400d" stroke-width="0.7"/>
<use href="#P37" fill="#5dac76" stroke="#27624f" stroke-width="0.7"/>
<use href="#P38" fill="#f28f1f" stroke="#7c400d" stroke-width="0.7"/>
<use href="#P39" fill="#f28f1f" stroke="#7c400d" stroke-width="0.7"/>
<use href="#P40" fill="#db2719" stroke="#821910" stroke-width="0.7"/>
<use href="#P41" fill="#5dac76" stroke="#27624f" stroke-width="0.7"/>
<use href="#P42" fill="#f28f1f" stroke="#7c400d" stroke-width="0.7"/>
<use href="#P43" fill="#5dac76" stroke="#27624f" stroke-width="0.7"/>
<use href="#P44" fill="#f28f1f" stroke="#7c400d" stroke-width="0.7"/>
<use href="#P45" fill="#5dac76" stroke="#27624f" stroke-width="0.7"/>
<use href="#P46" fill="#5dac76" stroke="#27624f" stroke-width="0.7"/>
<use href="#P47" fill="#f28f1f" stroke="#7c400d" stroke-width="0.7"/>
<use href="#P48" fill="#f28f1f" stroke="#7c400d" stroke-width="0.7"/>
<use href="#P49" fill="#5dac76" stroke="#27624f" stroke-width="0.7"/>
<use href="#P50" fill="#5dac76" stroke="#27624f" stroke-width="0.7"/>
<use href="#P51" fill="#f28f1f" stroke="#7c400d" stroke-width="0.7"/>
<use href="#P52" fill="#5dac76" stroke="#27624f" stroke-width="0.7"/>
<use href="#P53" fill="#f28f1f" stroke="#7c400d" stroke-width="0.7"/>
<use href="#P54" fill="#5dac76" stroke="#27624f" stroke-width="0.7"/>
<use href="#P55" fill="#5dac76" stroke="#27624f" stroke-width="0.7"/>
<use href="#P56" fill="#db2719" stroke="#821910" stroke-width="0.7"/>
<path d="M501.2,318.1 503.1,310.0" fill="none" stroke="#821910" stroke-width="0.8"/>
<path d="M298.8,323.8 300.0,328.8 298.8,333.1" fill="none" stroke="#821910" stroke-width="0.8"/>
<path d="M306.9,323.8 311.2,324.0 317.5,324.8" fill="none" stroke="#821910" stroke-width="0.8"/>
<path d="M321.9,308.1 321.2,313.8 322.5,317.5 321.2,321.2 326.2,322.5" fill="none" stroke="#821910" stroke-width="0.8"/>
<path d="M322.5,317.5 328.8,318.8 335.6,320.0" fill="none" stroke="#821910" stroke-width="0.8"/>
<path d="M335.0,307.5 335.6,314.4 338.8,315.0" fill="none" stroke="#821910" stroke-width="0.8"/>
<path d="M341.2,282.8 345.6,286.9 343.1,292.5 341.9,297.5" fill="none" stroke="#821910" stroke-width="0.8"/>
<path d="M353.8,279.6 352.5,284.4 350.0,288.1" fill="none" stroke="#821910" stroke-width="0.8"/>
<path d="M351.2,310.0 357.5,310.6" fill="none" stroke="#821910" stroke-width="0.8"/>
<path d="M348.1,323.8 353.8,322.5 360.0,321.2" fill="none" stroke="#821910" stroke-width="0.8"/>
<path d="M353.8,322.5 353.1,316.2" fill="none" stroke="#821910" stroke-width="0.8"/>
<path d="M403.8,323.8 411.2,318.8 418.8,320.0 425.0,323.8 431.9,325.0 437.5,325.6" fill="none" stroke="#7c400d" stroke-width="0.8"/>
<path d="M418.8,326.2 425.0,327.5 432.5,328.8" fill="none" stroke="#7c400d" stroke-width="0.8"/>
<path d="M463.8,365.0 465.0,360.0 468.1,357.5 470.0,353.8" fill="none" stroke="#7c400d" stroke-width="0.8"/>
<path d="M468.1,357.5 472.5,360.0 475.0,365.0 480.0,366.2" fill="none" stroke="#7c400d" stroke-width="0.8"/>
<path d="M473.8,368.8 476.2,365.0 475.0,360.0" fill="none" stroke="#7c400d" stroke-width="0.8"/>
</g>
<g mask="url(#M_na)">
<use href="#L_na" fill="#821910" stroke="#821910" stroke-width="3"/>
<use href="#P1" fill="#7c400d" stroke="#7c400d" stroke-width="3"/>
<use href="#P2" fill="#27624f" stroke="#27624f" stroke-width="3"/>
</g>
<g clip-path="url(#C_na)">
<use href="#L_na" fill="#db2719"/>
<use href="#P0" fill="#db2719" stroke="#821910" stroke-width="0.7"/>
<use href="#P1" fill="#f28f1f" stroke="#7c400d" stroke-width="0.7"/>
<use href="#P2" fill="#5dac76" stroke="#27624f" stroke-width="0.7"/>
<path d="M117.3,315.1 168.1,315.3 172.8,317.5 180.6,323.7 190.0,322.8 196.2,320.3 200.9,316.4 205.6,314.8 208.4,315.3" fill="none" stroke="#821910" stroke-width="0.8"/>
<path d="M90.2,281.9 90.3,296.8" fill="none" stroke="#821910" stroke-width="0.8"/>
</g>
<g mask="url(#M_newguinea)">
<use href="#L_newguinea" fill="#7c400d" stroke="#7c400d" stroke-width="3"/>
<use href="#P57" fill="#27624f" stroke="#27624f" stroke-width="3"/>
</g>
<g clip-path="url(#C_newguinea)">
<use href="#L_newguinea" fill="#f28f1f"/>
<use href="#P57" fill="#5dac76" stroke="#27624f" stroke-width="0.7"/>
</g>
<g mask="url(#M_sa)">
<use href="#L_sa" fill="#7c400d" stroke="#7c400d" stroke-width="3"/>
<use href="#P3" fill="#821910" stroke="#821910" stroke-width="3"/>
<use href="#P4" fill="#821910" stroke="#821910" stroke-width="3"/>
<use href="#P6" fill="#821910" stroke="#821910" stroke-width="3"/>
<use href="#P9" fill="#27624f" stroke="#27624f" stroke-width="3"/>
<use href="#P11" fill="#821910" stroke="#821910" stroke-width="3"/>
<use href="#P12" fill="#821910" stroke="#821910" stroke-width="3"/>
</g>
<g clip-path="url(#C_sa)">
<use href="#L_sa" fill="#f28f1f"/>
<use href="#P3" fill="#db2719" stroke="#821910" stroke-width="0.7"/>
<use href="#P4" fill="#db2719" stroke="#821910" stroke-width="0.7"/>
<use href="#P5" fill="#f28f1f" stroke="#7c400d" stroke-width="0.7"/>
<use href="#P6" fill="#db2719" stroke="#821910" stroke-width="0.7"/>
<use href="#P7" fill="#f28f1f" stroke="#7c400d" stroke-width="0.7"/>
<use href="#P8" fill="#f28f1f" stroke="#7c400d" stroke-width="0.7"/>
<use href="#P9" fill="#5dac76" stroke="#27624f" stroke-width="0.7"/>
<use href="#P10" fill="#f28f1f" stroke="#7c400d" stroke-width="0.7"/>
<use href="#P11" fill="#db2719" stroke="#821910" stroke-width="0.7"/>
<use href="#P12" fill="#db2719" stroke="#821910" stroke-width="0.7"/>
<path d="M203.8,418.8 204.4,423.8 202.5,430.0 201.2,436.2 200.0,442.5 199.4,448.8 198.8,455.0 198.1,461.2 198.1,466.2 200.0,470.0 202.5,471.9" fill="none" stroke="#821910" stroke-width="0.8"/>
<path d="M184.4,389.8 188.1,390.6 191.9,390.2 193.8,391.2" fill="none" stroke="#7c400d" stroke-width="0.8"/>
</g>
<path d="M358.8,322.5 361.2,320.6 363.8,320.0 367.5,321.2 368.8,318.8 372.5,318.1 375.0,319.4 378.8,321.2 382.5,323.8 383.8,326.2 380.0,326.9 372.5,326.9 365.0,326.9 360.0,326.0Z" fill="#edf5f8" stroke="#5d7f88" stroke-width="0.5"/>
<path d="M388.8,319.4 392.5,318.5 397.5,319.4 398.8,321.2 396.2,322.5 395.0,325.0 397.5,328.1 398.8,331.2 397.5,333.8 393.8,333.1 391.9,330.0 391.2,326.2 389.4,322.5Z" fill="#edf5f8" stroke="#5d7f88" stroke-width="0.5"/>
<path d="M168.9,316.8 172.8,315.9 177.5,317.5 175.9,319.0 171.2,318.7Z" fill="#edf5f8" stroke="#5d7f88" stroke-width="0.5"/>
<path d="M173.6,319.5 175.6,319.5 176.2,325.7 174.4,326.5Z" fill="#edf5f8" stroke="#5d7f88" stroke-width="0.5"/>
<path d="M178.3,319.5 183.0,320.0 184.5,323.4 181.4,325.0 179.1,322.6Z" fill="#edf5f8" stroke="#5d7f88" stroke-width="0.5"/>
<path d="M185.3,322.1 193.9,321.5 194.7,323.1 186.9,324.2Z" fill="#edf5f8" stroke="#5d7f88" stroke-width="0.5"/>
<path d="M551.7,394.1 554.8,394.6 555.6,396.8 553.8,398.4 552.5,398.0 554.1,396.5 553.3,395.2Z" fill="#5d7f88" stroke="#5d7f88" stroke-width="0.5"/>
<path d="M558.4,398.0 563.4,400.4 568.9,404.3 570.0,405.8 568.1,405.5 562.7,401.9 558.0,399.3Z" fill="#5d7f88" stroke="#5d7f88" stroke-width="0.5"/>
<path d="M575.9,412.1 578.3,414.0 577.5,414.9 575.3,412.9Z" fill="#5d7f88" stroke="#5d7f88" stroke-width="0.5"/>
<path d="M573.1,419.9 577.2,422.2 576.6,423.3 572.5,421.0Z" fill="#5d7f88" stroke="#5d7f88" stroke-width="0.5"/>
<path d="M593.1,416.5 597.5,414.0 598.1,415.2 593.9,417.7Z" fill="#5d7f88" stroke="#5d7f88" stroke-width="0.5"/>
<path d="M41.9,291.4 45.5,291.9 45.9,292.9 42.3,292.6Z" fill="#5d7f88" stroke="#5d7f88" stroke-width="0.5"/>
<path d="M102.5,307.5 104.4,307.2 105.0,309.7 103.1,310.0Z" fill="#5d7f88" stroke="#5d7f88" stroke-width="0.5"/>
<path d="M60.3,356.7 65.0,357.4 67.3,359.0 63.4,358.7Z" fill="#5d7f88" stroke="#5d7f88" stroke-width="0.5"/>
</g>
<rect x="26.8" y="370.1" width="20.1" height="18.4" fill="#91cae3"/>
<rect x="26.8" y="391.2" width="20.1" height="18.4" fill="#5dac76"/>
<rect x="26.8" y="412.2" width="20.1" height="18.4" fill="#f28f1f"/>
<rect x="26.8" y="433.2" width="20.1" height="18.4" fill="#db2719"/>
<rect x="664" y="370.1" width="20.1" height="18.4" fill="#91cae3"/>
<rect x="664" y="391.2" width="20.1" height="18.4" fill="#5dac76"/>
<rect x="664" y="412.2" width="20.1" height="18.4" fill="#f28f1f"/>
<rect x="664" y="433.2" width="20.1" height="18.4" fill="#db2719"/>
<path d="M202.19,645.94 209.38,645.94 209.38,659.41 202.19,659.41Z" fill="#b3d6e6"/>
<path d="M216.56,630.68 221.95,630.68 221.95,648.64 216.56,648.64Z" fill="#b3d6e6"/>
<path d="M261.49,616.31 265.98,616.31 265.98,634.27 261.49,634.27Z" fill="#b3d6e6"/>
<path d="M289.34,614.51 295.63,614.51 295.63,641.45 289.34,641.45Z" fill="#b3d6e6"/>
<path d="M380.09,622.59 389.97,622.59 389.97,650.43 380.09,650.43Z" fill="#b3d6e6"/>
<path d="M390.87,636.06 400.75,636.06 400.75,650.43 390.87,650.43Z" fill="#b3d6e6"/>
<path d="M318.99,619.0 324.38,619.0 324.38,634.27 318.99,634.27Z" fill="#b3d6e6"/>
<path d="M227.35,613.61 241.72,613.61 241.72,648.64 227.35,648.64Z" fill="#58a7d4"/>
<path d="M228.06,615.62H241.0M228.06,618.5H241.0M228.06,621.37H241.0M228.06,624.25H241.0M228.06,627.12H241.0M228.06,629.99H241.0M228.06,632.87H241.0M228.06,635.74H241.0M228.06,638.61H241.0M228.06,641.49H241.0M228.06,644.36H241.0M228.06,647.23H241.0M229.36,614.33V647.92M232.23,614.33V647.92M235.11,614.33V647.92M237.98,614.33V647.92M240.86,614.33V647.92" fill="none" stroke="#ffffff" stroke-width="0.7" opacity="0.35"/>
<path d="M227.35,613.61 241.72,613.61 241.72,648.64 227.35,648.64Z" fill="none" stroke="#1f4057" stroke-width="0.9"/>
<path d="M209.38,632.47 221.95,632.47 221.95,660.13 209.38,660.13Z" fill="#ea9148"/>
<path d="M210.09,634.11H221.24M210.09,636.44H221.24M210.09,638.78H221.24M210.09,641.11H221.24M210.09,643.44H221.24M210.09,645.78H221.24M210.09,648.11H221.24M210.09,650.45H221.24M210.09,652.78H221.24M210.09,655.12H221.24M210.09,657.45H221.24M211.01,633.19V659.41M213.35,633.19V659.41M215.68,633.19V659.41M218.02,633.19V659.41M220.35,633.19V659.41" fill="none" stroke="#7a3d10" stroke-width="0.7" opacity="0.45"/>
<path d="M209.38,632.47 221.95,632.47 221.95,660.13 209.38,660.13Z" fill="none" stroke="#1f4057" stroke-width="0.9"/>
<path d="M221.06,649.53 237.23,649.53 237.23,660.13 221.06,660.13Z" fill="#58a7d4"/>
<path d="M221.77,651.8H236.51M221.77,655.03H236.51M221.77,658.26H236.51" fill="none" stroke="#ffffff" stroke-width="0.7" opacity="0.35"/>
<path d="M221.06,649.53 237.23,649.53 237.23,660.13 221.06,660.13Z" fill="none" stroke="#1f4057" stroke-width="0.9"/>
<path d="M252.5,593.86L252.5,604.63" fill="none" stroke="#1f4057" stroke-width="0.9"/>
<path d="M249.81,604.63 250.71,601.94 254.3,601.94 255.2,604.63Z" fill="#58a7d4" stroke="#1f4057" stroke-width="0.9"/>
<path d="M246.21,604.63 258.79,604.63 258.79,637.86 246.21,637.86Z" fill="#58a7d4"/>
<path d="M246.93,606.65H258.07M246.93,609.52H258.07M246.93,612.39H258.07M246.93,615.27H258.07M246.93,618.14H258.07M246.93,621.01H258.07M246.93,623.89H258.07M246.93,626.76H258.07M246.93,629.63H258.07M246.93,632.51H258.07M246.93,635.38H258.07M248.23,605.35V637.14M251.1,605.35V637.14M253.98,605.35V637.14M256.85,605.35V637.14" fill="none" stroke="#ffffff" stroke-width="0.7" opacity="0.35"/>
<path d="M246.21,604.63 258.79,604.63 258.79,637.86 246.21,637.86Z" fill="none" stroke="#1f4057" stroke-width="0.9"/>
<path d="M237.23,631.57 252.14,631.57 252.14,660.13 237.23,660.13Z" fill="#ea9148"/>
<path d="M237.95,633.21H251.42M237.95,635.54H251.42M237.95,637.88H251.42M237.95,640.21H251.42M237.95,642.55H251.42M237.95,644.88H251.42M237.95,647.22H251.42M237.95,649.55H251.42M237.95,651.89H251.42M237.95,654.22H251.42M237.95,656.56H251.42M237.95,658.89H251.42M238.86,632.29V659.41M241.2,632.29V659.41M243.54,632.29V659.41M245.87,632.29V659.41M248.21,632.29V659.41M250.54,632.29V659.41" fill="none" stroke="#7a3d10" stroke-width="0.7" opacity="0.45"/>
<path d="M237.23,631.57 252.14,631.57 252.14,660.13 237.23,660.13Z" fill="none" stroke="#1f4057" stroke-width="0.9"/>
<path d="M258.79,635.17 283.05,635.17 283.05,641.81 258.79,641.81Z" fill="#86c3e4"/>
<path d="M258.79,635.17 283.05,635.17 283.05,641.81 258.79,641.81Z" fill="none" stroke="#1f4057" stroke-width="0.9"/>
<path d="M252.5,638.22 273.71,638.22 273.71,660.13 252.5,660.13Z" fill="#6cbb86"/>
<path d="M254.26,638.94V659.41M256.78,638.94V659.41M259.29,638.94V659.41M261.81,638.94V659.41M264.33,638.94V659.41M266.84,638.94V659.41M269.36,638.94V659.41M271.87,638.94V659.41" fill="none" stroke="#2f6e4a" stroke-width="0.7" opacity="0.5"/>
<path d="M252.5,638.22 273.71,638.22 273.71,660.13 252.5,660.13Z" fill="none" stroke="#1f4057" stroke-width="0.9"/>
<path d="M274.42,575.0L274.42,586.14" fill="none" stroke="#1f4057" stroke-width="1.1"/>
<path d="M282.69,620.8 288.8,620.8 288.8,641.45 282.69,641.45Z" fill="#ea9148"/>
<path d="M282.69,620.8 288.8,620.8 288.8,641.45 282.69,641.45Z" fill="none" stroke="#1f4057" stroke-width="0.9"/>
<path d="M265.98,601.94 283.05,601.94 283.05,635.17 265.98,635.17Z" fill="#ea9148"/>
<path d="M265.98,601.94 283.05,601.94 283.05,635.17 265.98,635.17Z" fill="none" stroke="#1f4057" stroke-width="0.9"/>
<path d="M266.88,601.94 267.78,590.27 270.11,589.37 270.11,586.14 279.1,586.14 279.1,589.37 281.61,590.27 282.51,601.94Z" fill="#ea9148" stroke="#1f4057" stroke-width="0.9"/>
<path d="M270.47,586.14 279.1,586.14 279.1,635.17 270.47,635.17Z" fill="#58a7d4"/>
<path d="M271.19,587.9H278.38M271.19,590.41H278.38M271.19,592.92H278.38M271.19,595.44H278.38M271.19,597.95H278.38M271.19,600.47H278.38M271.19,602.98H278.38M271.19,605.5H278.38M271.19,608.01H278.38M271.19,610.52H278.38M271.19,613.04H278.38M271.19,615.55H278.38M271.19,618.07H278.38M271.19,620.58H278.38M271.19,623.1H278.38M271.19,625.61H278.38M271.19,628.12H278.38M271.19,630.64H278.38M271.19,633.15H278.38M272.23,586.85V634.45M274.75,586.85V634.45M277.26,586.85V634.45" fill="none" stroke="#1f4f78" stroke-width="0.7" opacity="0.35"/>
<path d="M270.47,586.14 279.1,586.14 279.1,635.17 270.47,635.17Z" fill="none" stroke="#1f4057" stroke-width="0.9"/>
<path d="M274.07,641.81 279.46,641.81 279.46,660.13 274.07,660.13Z" fill="#c9e2ec"/>
<path d="M274.78,643.57H278.74M274.78,646.08H278.74M274.78,648.6H278.74M274.78,651.11H278.74M274.78,653.63H278.74M274.78,656.14H278.74M274.78,658.66H278.74" fill="none" stroke="#5b8ba3" stroke-width="0.7" opacity="0.6"/>
<path d="M274.07,641.81 279.46,641.81 279.46,660.13 274.07,660.13Z" fill="none" stroke="#1f4057" stroke-width="0.9"/>
<path d="M278.2,641.45 302.82,641.45 302.82,660.13 278.2,660.13Z" fill="#2f7fb8"/>
<path d="M279.96,642.17V659.41M282.48,642.17V659.41M284.99,642.17V659.41M287.51,642.17V659.41M290.02,642.17V659.41M292.54,642.17V659.41M295.05,642.17V659.41M297.57,642.17V659.41M300.09,642.17V659.41" fill="none" stroke="#bfe0f2" stroke-width="0.7" opacity="0.4"/>
<path d="M278.2,641.45 302.82,641.45 302.82,660.13 278.2,660.13Z" fill="none" stroke="#1f4057" stroke-width="0.9"/>
<path d="M300.12,598.89 311.8,598.89 311.8,602.3 300.12,602.3Z" fill="#58a7d4"/>
<path d="M300.12,598.89 311.8,598.89 311.8,602.3 300.12,602.3Z" fill="none" stroke="#1f4057" stroke-width="0.9"/>
<path d="M296.17,601.94 315.75,601.94 315.75,650.43 296.17,650.43Z" fill="#58a7d4"/>
<path d="M298.05,602.66V649.71M300.75,602.66V649.71M303.45,602.66V649.71M306.14,602.66V649.71M308.84,602.66V649.71M311.53,602.66V649.71M314.23,602.66V649.71" fill="none" stroke="#1f4f78" stroke-width="0.7" opacity="0.55"/>
<path d="M296.17,601.94 315.75,601.94 315.75,650.43 296.17,650.43Z" fill="none" stroke="#1f4057" stroke-width="0.9"/>
<path d="M292.04,650.43 311.8,650.43 311.8,660.13 292.04,660.13Z" fill="#ea9148"/>
<path d="M292.75,652.44H311.08M292.75,655.32H311.08M292.75,658.19H311.08" fill="none" stroke="#7a3d10" stroke-width="0.7" opacity="0.45"/>
<path d="M292.04,650.43 311.8,650.43 311.8,660.13 292.04,660.13Z" fill="none" stroke="#1f4057" stroke-width="0.9"/>
<path d="M324.74,580.03 339.29,579.49 339.65,634.27 324.02,634.27Z" fill="#58a7d4" stroke="#1f4057" stroke-width="0.9"/>
<path d="M324.74,583.42H338.94M324.74,588.27H338.94M324.74,593.12H338.94M324.74,597.97H338.94M324.74,602.82H338.94M324.74,607.67H338.94M324.74,612.52H338.94M324.74,617.37H338.94M324.74,622.22H338.94M324.74,627.07H338.94M324.74,631.91H338.94" fill="none" stroke="#1f4f78" stroke-width="0.7" opacity="0.55"/>
<path d="M342.35,614.87 350.44,614.87 350.44,633.37 342.35,633.37Z" fill="#58a7d4"/>
<path d="M342.35,614.87 350.44,614.87 350.44,633.37 342.35,633.37Z" fill="none" stroke="#1f4057" stroke-width="0.9"/>
<path d="M311.8,622.23 330.67,622.23 330.67,660.13 311.8,660.13Z" fill="#6cbb86"/>
<path d="M312.52,624.37H329.95M312.52,627.42H329.95M312.52,630.48H329.95M312.52,633.53H329.95M312.52,636.58H329.95M312.52,639.64H329.95M312.52,642.69H329.95M312.52,645.74H329.95M312.52,648.8H329.95M312.52,651.85H329.95M312.52,654.9H329.95M312.52,657.96H329.95M313.94,622.95V659.41M316.99,622.95V659.41M320.05,622.95V659.41M323.1,622.95V659.41M326.16,622.95V659.41M329.21,622.95V659.41" fill="none" stroke="#e8f6ea" stroke-width="0.7" opacity="0.45"/>
<path d="M311.8,622.23 330.67,622.23 330.67,660.13 311.8,660.13Z" fill="none" stroke="#1f4057" stroke-width="0.9"/>
<path d="M331.57,633.37 353.13,633.37 353.13,660.13 331.57,660.13Z" fill="#2f7fb8"/>
<path d="M332.29,635.38H352.41M332.29,638.25H352.41M332.29,641.13H352.41M332.29,644.0H352.41M332.29,646.88H352.41M332.29,649.75H352.41M332.29,652.62H352.41M332.29,655.5H352.41M332.29,658.37H352.41M333.58,634.09V659.41M336.46,634.09V659.41M339.33,634.09V659.41M342.21,634.09V659.41M345.08,634.09V659.41M347.96,634.09V659.41M350.83,634.09V659.41" fill="none" stroke="#bfe0f2" stroke-width="0.7" opacity="0.45"/>
<path d="M331.57,633.37 353.13,633.37 353.13,660.13 331.57,660.13Z" fill="none" stroke="#1f4057" stroke-width="0.9"/>
<path d="M364.81,610.02 379.73,610.02 379.73,652.23 364.81,652.23Z" fill="#58a7d4"/>
<path d="M365.53,612.16H379.01M365.53,615.21H379.01M365.53,618.27H379.01M365.53,621.32H379.01M365.53,624.37H379.01M365.53,627.42H379.01M365.53,630.48H379.01M365.53,633.53H379.01M365.53,636.58H379.01M365.53,639.64H379.01M365.53,642.69H379.01M365.53,645.74H379.01M365.53,648.8H379.01M366.95,610.74V651.51M370.0,610.74V651.51M373.06,610.74V651.51M376.11,610.74V651.51M379.17,610.74V651.51" fill="none" stroke="#ffffff" stroke-width="0.7" opacity="0.35"/>
<path d="M364.81,610.02 379.73,610.02 379.73,652.23 364.81,652.23Z" fill="none" stroke="#1f4057" stroke-width="0.9"/>
<path d="M349.54,596.91 364.81,596.91 364.81,636.96 349.54,636.96Z" fill="#ea9148"/>
<path d="M350.26,598.67H364.09M350.26,601.19H364.09M350.26,603.7H364.09M350.26,606.21H364.09M350.26,608.73H364.09M350.26,611.24H364.09M350.26,613.76H364.09M350.26,616.27H364.09M350.26,618.79H364.09M350.26,621.3H364.09M350.26,623.81H364.09M350.26,626.33H364.09M350.26,628.84H364.09M350.26,631.36H364.09M350.26,633.87H364.09M350.26,636.39H364.09M351.3,597.63V636.24M353.81,597.63V636.24M356.33,597.63V636.24M358.85,597.63V636.24M361.36,597.63V636.24M363.88,597.63V636.24" fill="none" stroke="#7a3d10" stroke-width="0.7" opacity="0.45"/>
<path d="M349.54,596.91 364.81,596.91 364.81,636.96 349.54,636.96Z" fill="none" stroke="#1f4057" stroke-width="0.9"/>
<path d="M352.77,636.96 367.15,636.96 367.15,660.13 352.77,660.13Z" fill="#ea9148"/>
<path d="M353.49,638.72H366.43M353.49,641.24H366.43M353.49,643.75H366.43M353.49,646.26H366.43M353.49,648.78H366.43M353.49,651.29H366.43M353.49,653.81H366.43M353.49,656.32H366.43M353.49,658.84H366.43M354.53,637.68V659.41M357.05,637.68V659.41M359.56,637.68V659.41M362.08,637.68V659.41M364.6,637.68V659.41" fill="none" stroke="#7a3d10" stroke-width="0.7" opacity="0.45"/>
<path d="M352.77,636.96 367.15,636.96 367.15,660.13 352.77,660.13Z" fill="none" stroke="#1f4057" stroke-width="0.9"/>
<path d="M357.62,651.33 362.12,651.33 362.12,660.13 357.62,660.13Z" fill="#c9e2ec"/>
<path d="M357.62,651.33 362.12,651.33 362.12,660.13 357.62,660.13Z" fill="none" stroke="#1f4057" stroke-width="0.9"/>
<path d="M398.95,646.84 407.04,646.84 407.04,660.13 398.95,660.13Z" fill="#58a7d4"/>
<path d="M399.67,648.85H406.32M399.67,651.72H406.32M399.67,654.6H406.32M399.67,657.47H406.32" fill="none" stroke="#ffffff" stroke-width="0.7" opacity="0.35"/>
<path d="M398.95,646.84 407.04,646.84 407.04,660.13 398.95,660.13Z" fill="none" stroke="#1f4057" stroke-width="0.9"/>
<path d="M385.48,644.15 398.95,644.15 398.95,660.13 385.48,660.13Z" fill="#6cbb86"/>
<path d="M386.19,646.16H398.23M386.19,649.03H398.23M386.19,651.9H398.23M386.19,654.78H398.23M386.19,657.65H398.23" fill="none" stroke="#2f6e4a" stroke-width="0.7" opacity="0.5"/>
<path d="M385.48,644.15 398.95,644.15 398.95,660.13 385.48,660.13Z" fill="none" stroke="#1f4057" stroke-width="0.9"/>
<path d="M370.2,651.87 384.58,651.87 382.78,660.13 372.0,660.13Z" fill="#ea9148" stroke="#1f4057" stroke-width="0.9"/>
<path d="M201.29,654.92L201.29,660.13" fill="none" stroke="#1f4057" stroke-width="0.8"/>
<circle cx="201.29" cy="654.92" r="2.88" fill="#7cc48f" stroke="#1f4057" stroke-width="0.8"/>
<path d="M205.42,655.28L205.42,660.13" fill="none" stroke="#1f4057" stroke-width="0.8"/>
<circle cx="205.42" cy="655.28" r="2.52" fill="#7cc48f" stroke="#1f4057" stroke-width="0.8"/>
<path d="M253.4,655.46L253.4,660.13" fill="none" stroke="#1f4057" stroke-width="0.8"/>
<circle cx="253.4" cy="655.46" r="2.88" fill="#7cc48f" stroke="#1f4057" stroke-width="0.8"/>
<path d="M263.28,655.82L263.28,660.13" fill="none" stroke="#1f4057" stroke-width="0.8"/>
<circle cx="263.28" cy="655.82" r="3.23" fill="#7cc48f" stroke="#1f4057" stroke-width="0.8"/>
<path d="M321.68,653.3L321.68,660.13" fill="none" stroke="#1f4057" stroke-width="0.8"/>
<circle cx="321.68" cy="653.3" r="3.59" fill="#7cc48f" stroke="#1f4057" stroke-width="0.8"/>
<path d="M331.57,654.02L331.57,660.13" fill="none" stroke="#1f4057" stroke-width="0.8"/>
<circle cx="331.57" cy="654.02" r="3.05" fill="#7cc48f" stroke="#1f4057" stroke-width="0.8"/>
<path d="M341.45,654.38L341.45,660.13" fill="none" stroke="#1f4057" stroke-width="0.8"/>
<circle cx="341.45" cy="654.38" r="2.7" fill="#7cc48f" stroke="#1f4057" stroke-width="0.8"/>
<path d="M370.2,655.28L370.2,660.13" fill="none" stroke="#1f4057" stroke-width="0.8"/>
<circle cx="370.2" cy="655.28" r="2.34" fill="#7cc48f" stroke="#1f4057" stroke-width="0.8"/>
<path d="M384.58,655.46L384.58,660.13" fill="none" stroke="#1f4057" stroke-width="0.8"/>
<circle cx="384.58" cy="655.46" r="2.34" fill="#7cc48f" stroke="#1f4057" stroke-width="0.8"/>
<path d="M406.14,654.02L406.14,660.13" fill="none" stroke="#1f4057" stroke-width="0.8"/>
<circle cx="406.14" cy="654.02" r="3.23" fill="#7cc48f" stroke="#1f4057" stroke-width="0.8"/>
<path d="M410.63,656.18L410.63,660.13" fill="none" stroke="#1f4057" stroke-width="0.8"/>
<circle cx="410.63" cy="656.18" r="1.98" fill="#7cc48f" stroke="#1f4057" stroke-width="0.8"/>
<path d="M191.05,660.31L418.72,660.31" fill="none" stroke="#1f4057" stroke-width="1.2"/>
<path d="M835.09,623.18 848.09,623.18 848.09,646.81 835.09,646.81Z" fill="#b3d6e6"/>
<path d="M871.72,591.27 881.18,591.27 881.18,627.9 871.72,627.9Z" fill="#b3d6e6"/>
<path d="M903.63,592.45 911.9,592.45 911.9,627.9 903.63,627.9Z" fill="#b3d6e6"/>
<path d="M940.27,597.18 948.54,597.18 948.54,613.72 940.27,613.72Z" fill="#b3d6e6"/>
<path d="M975.72,587.72 983.28,587.72 983.28,646.81 975.72,646.81Z" fill="#b3d6e6"/>
<path d="M1008.81,590.09 1018.26,590.09 1018.26,616.08 1008.81,616.08Z" fill="#b3d6e6"/>
<path d="M1040.71,574.72 1048.99,574.72 1048.99,611.36 1040.71,611.36Z" fill="#b3d6e6"/>
<path d="M1066.71,606.63 1078.53,606.63 1078.53,642.08 1066.71,642.08Z" fill="#b3d6e6"/>
<path d="M1077.35,634.99 1085.62,634.99 1085.62,656.26 1077.35,656.26Z" fill="#b3d6e6"/>
<path d="M978.55,578.27L978.55,587.72" fill="none" stroke="#b3d6e6" stroke-width="1.2"/>
<path d="M1013.06,583.0L1013.06,590.09" fill="none" stroke="#b3d6e6" stroke-width="1.2"/>
<path d="M1043.79,565.98L1043.79,574.72" fill="none" stroke="#b3d6e6" stroke-width="1.2"/>
<path d="M1072.62,603.79L1072.62,606.63" fill="none" stroke="#b3d6e6" stroke-width="1.2"/>
<path d="M855.18,561.72L855.18,574.01" fill="none" stroke="#1f4057" stroke-width="0.9"/>
<path d="M850.45,580.63 850.93,575.91 854.0,573.54 857.54,573.54 860.62,575.91 863.92,580.63Z" fill="#58a7d4" stroke="#1f4057" stroke-width="0.9"/>
<path d="M847.38,580.63 863.92,580.63 863.92,644.45 847.38,644.45Z" fill="#58a7d4"/>
<path d="M847.38,580.63 863.92,580.63 863.92,644.45 847.38,644.45Z" fill="none" stroke="#1f4057" stroke-width="0.9"/>
<path d="M847.38,586.54 860.38,586.54 860.38,644.45 847.38,644.45Z" fill="#ea9148"/>
<path d="M848.33,588.69H859.43M848.33,591.76H859.43M848.33,594.84H859.43M848.33,597.91H859.43M848.33,600.98H859.43M848.33,604.05H859.43M848.33,607.13H859.43M848.33,610.2H859.43M848.33,613.27H859.43M848.33,616.34H859.43M848.33,619.42H859.43M848.33,622.49H859.43M848.33,625.56H859.43M848.33,628.64H859.43M848.33,631.71H859.43M848.33,634.78H859.43M848.33,637.85H859.43M848.33,640.93H859.43" fill="none" stroke="#7a3d10" stroke-width="0.7" opacity="0.55"/>
<path d="M847.38,586.54 860.38,586.54 860.38,644.45 847.38,644.45Z" fill="none" stroke="#1f4057" stroke-width="0.9"/>
<path d="M867.0,601.9 886.38,601.9 886.38,646.81 867.0,646.81Z" fill="#2f7fb8"/>
<path d="M867.94,604.22H885.43M867.94,607.53H885.43M867.94,610.84H885.43M867.94,614.15H885.43M867.94,617.46H885.43M867.94,620.76H885.43M867.94,624.07H885.43M867.94,627.38H885.43M867.94,630.69H885.43M867.94,634.0H885.43M867.94,637.31H885.43M867.94,640.62H885.43M867.94,643.93H885.43" fill="none" stroke="#bfe0f2" stroke-width="0.7" opacity="0.45"/>
<path d="M867.0,601.9 886.38,601.9 886.38,646.81 867.0,646.81Z" fill="none" stroke="#1f4057" stroke-width="0.9"/>
<path d="M839.34,645.16 856.36,645.16 856.36,660.05 839.34,660.05Z" fill="#58a7d4"/>
<path d="M840.29,647.47H855.42M840.29,650.78H855.42M840.29,654.09H855.42M840.29,657.4H855.42" fill="none" stroke="#ffffff" stroke-width="0.7" opacity="0.35"/>
<path d="M839.34,645.16 856.36,645.16 856.36,660.05 839.34,660.05Z" fill="none" stroke="#1f4057" stroke-width="0.9"/>
<path d="M856.36,636.17 864.63,636.17 864.63,660.05 856.36,660.05Z" fill="#86c3e4"/>
<path d="M856.36,636.17 864.63,636.17 864.63,660.05 856.36,660.05Z" fill="none" stroke="#1f4057" stroke-width="0.9"/>
<path d="M864.63,636.17 876.45,636.17 876.45,660.05 864.63,660.05Z" fill="#ea9148"/>
<path d="M865.58,639.15H875.51M865.58,643.41H875.51M865.58,647.66H875.51M865.58,651.92H875.51M865.58,656.17H875.51" fill="none" stroke="#7a3d10" stroke-width="0.7" opacity="0.5"/>
<path d="M864.63,636.17 876.45,636.17 876.45,660.05 864.63,660.05Z" fill="none" stroke="#1f4057" stroke-width="0.9"/>
<path d="M888.98,545.18L888.98,560.54" fill="none" stroke="#1f4057" stroke-width="0.9"/>
<path d="M885.91,559.36 904.34,573.54 904.34,646.81 885.91,646.81Z" fill="#58a7d4" stroke="#1f4057" stroke-width="0.9"/>
<path d="M885.91,575.91L904.34,594.81" fill="none" stroke="#d8edf7" stroke-width="0.6"/>
<path d="M904.34,575.91L885.91,594.81" fill="none" stroke="#d8edf7" stroke-width="0.6"/>
<path d="M885.91,594.81L904.34,613.72" fill="none" stroke="#d8edf7" stroke-width="0.6"/>
<path d="M904.34,594.81L885.91,613.72" fill="none" stroke="#d8edf7" stroke-width="0.6"/>
<path d="M885.91,613.72L904.34,632.63" fill="none" stroke="#d8edf7" stroke-width="0.6"/>
<path d="M904.34,613.72L885.91,632.63" fill="none" stroke="#d8edf7" stroke-width="0.6"/>
<path d="M875.98,642.08 898.9,642.08 898.9,660.05 875.98,660.05Z" fill="#2f7fb8"/>
<path d="M876.92,644.73H897.96M876.92,648.51H897.96M876.92,652.29H897.96M876.92,656.08H897.96M878.63,643.03V659.1M882.41,643.03V659.1M886.19,643.03V659.1M889.97,643.03V659.1M893.75,643.03V659.1M897.53,643.03V659.1" fill="none" stroke="#bfe0f2" stroke-width="0.7" opacity="0.4"/>
<path d="M875.98,642.08 898.9,642.08 898.9,660.05 875.98,660.05Z" fill="none" stroke="#1f4057" stroke-width="0.9"/>
<path d="M899.61,627.9 917.81,627.9 917.81,660.05 899.61,660.05Z" fill="#58a7d4"/>
<path d="M901.93,628.85V659.1M905.24,628.85V659.1M908.55,628.85V659.1M911.86,628.85V659.1M915.17,628.85V659.1" fill="none" stroke="#1f4f78" stroke-width="0.7" opacity="0.5"/>
<path d="M899.61,627.9 917.81,627.9 917.81,660.05 899.61,660.05Z" fill="none" stroke="#1f4057" stroke-width="0.9"/>
<path d="M926.08,528.64L926.08,552.27" fill="none" stroke="#1f4057" stroke-width="1.1"/>
<path d="M923.25,552.27 924.19,542.82 927.98,542.82 929.39,552.27Z" fill="#2f7fb8" stroke="#1f4057" stroke-width="0.9"/>
<path d="M931.99,586.54 939.79,586.54 939.79,616.08 931.99,616.08Z" fill="#ea9148"/>
<path d="M933.98,587.49V615.14M936.82,587.49V615.14" fill="none" stroke="#7a3d10" stroke-width="0.7" opacity="0.5"/>
<path d="M931.99,586.54 939.79,586.54 939.79,616.08 931.99,616.08Z" fill="none" stroke="#1f4057" stroke-width="0.9"/>
<path d="M914.27,586.54 922.54,586.54 922.54,649.17 914.27,649.17Z" fill="#ea9148"/>
<path d="M916.25,587.49V648.23M919.09,587.49V648.23" fill="none" stroke="#7a3d10" stroke-width="0.7" opacity="0.5"/>
<path d="M914.27,586.54 922.54,586.54 922.54,649.17 914.27,649.17Z" fill="none" stroke="#1f4057" stroke-width="0.9"/>
<path d="M917.1,586.54 917.1,561.72 922.54,561.72 922.54,553.45 930.81,553.45 930.81,561.72 936.72,561.72 936.72,586.54Z" fill="#ea9148" stroke="#1f4057" stroke-width="0.9"/>
<path d="M918.99,560.54 933.18,560.54 933.18,649.17 918.99,649.17Z" fill="#2f7fb8"/>
<path d="M921.31,561.49V648.23M924.62,561.49V648.23M927.93,561.49V648.23M931.24,561.49V648.23" fill="none" stroke="#0f3a5c" stroke-width="0.7" opacity="0.5"/>
<path d="M918.99,560.54 933.18,560.54 933.18,649.17 918.99,649.17Z" fill="none" stroke="#1f4057" stroke-width="0.9"/>
<path d="M932.7,613.25 956.81,613.25 956.81,660.05 932.7,660.05Z" fill="#86c3e4"/>
<path d="M933.65,615.23H955.87M933.65,618.07H955.87M933.65,620.91H955.87M933.65,623.74H955.87M933.65,626.58H955.87M933.65,629.42H955.87M933.65,632.25H955.87M933.65,635.09H955.87M933.65,637.92H955.87M933.65,640.76H955.87M933.65,643.6H955.87M933.65,646.43H955.87M933.65,649.27H955.87M933.65,652.1H955.87M933.65,654.94H955.87M933.65,657.78H955.87" fill="none" stroke="#2b6a94" stroke-width="0.7" opacity="0.45"/>
<path d="M932.7,613.25 956.81,613.25 956.81,660.05 932.7,660.05Z" fill="none" stroke="#1f4057" stroke-width="0.9"/>
<path d="M944.52,616.08 956.81,616.08 956.81,660.05 944.52,660.05Z" fill="#2f7fb8"/>
<path d="M945.47,618.07H955.87M945.47,620.91H955.87M945.47,623.74H955.87M945.47,626.58H955.87M945.47,629.42H955.87M945.47,632.25H955.87M945.47,635.09H955.87M945.47,637.92H955.87M945.47,640.76H955.87M945.47,643.6H955.87M945.47,646.43H955.87M945.47,649.27H955.87M945.47,652.1H955.87M945.47,654.94H955.87M945.47,657.78H955.87M946.51,617.03V659.1M949.34,617.03V659.1M952.18,617.03V659.1M955.01,617.03V659.1" fill="none" stroke="#bfe0f2" stroke-width="0.7" opacity="0.35"/>
<path d="M944.52,616.08 956.81,616.08 956.81,660.05 944.52,660.05Z" fill="none" stroke="#1f4057" stroke-width="0.9"/>
<path d="M916.63,650.36 940.27,650.36 940.27,660.05 916.63,660.05Z" fill="#6cbb86"/>
<path d="M916.63,650.36 940.27,650.36 940.27,660.05 916.63,660.05Z" fill="none" stroke="#1f4057" stroke-width="0.9"/>
<path d="M916.63,656.26 940.27,656.26 940.27,660.05 916.63,660.05Z" fill="#ea9148"/>
<path d="M954.45,516.82 969.81,522.73 972.17,552.27 972.88,649.17 949.01,649.17 949.72,575.91 951.61,540.45Z" fill="#58a7d4" stroke="#1f4057" stroke-width="0.9"/>
<path d="M961.54,519.65 969.81,522.73 972.17,552.27 972.88,649.17 964.37,649.17 963.43,575.91Z" fill="#2f7fb8"/>
<path d="M950.67,528.09H971.94M950.67,530.69H971.94M950.67,533.29H971.94M950.67,535.89H971.94M950.67,538.49H971.94M950.67,541.09H971.94M950.67,543.69H971.94M950.67,546.29H971.94M950.67,548.89H971.94M950.67,551.49H971.94M950.67,554.09H971.94M950.67,556.69H971.94M950.67,559.29H971.94M950.67,561.89H971.94M950.67,564.49H971.94M950.67,567.09H971.94M950.67,569.69H971.94M950.67,572.29H971.94M950.67,574.89H971.94M950.67,577.49H971.94M950.67,580.09H971.94M950.67,582.69H971.94M950.67,585.29H971.94M950.67,587.89H971.94M950.67,590.49H971.94M950.67,593.09H971.94M950.67,595.69H971.94M950.67,598.29H971.94M950.67,600.89H971.94M950.67,603.49H971.94M950.67,606.09H971.94M950.67,608.69H971.94M950.67,611.29H971.94M950.67,613.89H971.94M950.67,616.49H971.94M950.67,619.09H971.94M950.67,621.69H971.94M950.67,624.29H971.94M950.67,626.89H971.94M950.67,629.49H971.94M950.67,632.09H971.94M950.67,634.69H971.94M950.67,637.29H971.94M950.67,639.89H971.94M950.67,642.49H971.94M950.67,645.09H971.94M950.67,647.68H971.94" fill="none" stroke="#123f63" stroke-width="0.7" opacity="0.5"/>
<path d="M954.45,516.82 969.81,522.73 972.17,552.27 972.88,649.17 949.01,649.17 949.72,575.91 951.61,540.45Z" fill="none" stroke="#1f4057" stroke-width="0.9"/>
<path d="M956.81,649.65 994.63,649.65 994.63,660.05 956.81,660.05Z" fill="#86c3e4"/>
<path d="M956.81,649.65 994.63,649.65 994.63,660.05 956.81,660.05Z" fill="none" stroke="#1f4057" stroke-width="0.9"/>
<path d="M963.9,654.37 993.44,654.37 993.44,660.05 963.9,660.05Z" fill="#ea9148"/>
<path d="M979.26,626.72 989.9,626.72 989.9,649.17 979.26,649.17Z" fill="#ea9148"/>
<path d="M980.21,628.71H988.95M980.21,631.54H988.95M980.21,634.38H988.95M980.21,637.21H988.95M980.21,640.05H988.95M980.21,642.89H988.95M980.21,645.72H988.95M981.25,627.67V648.23M984.09,627.67V648.23M986.92,627.67V648.23" fill="none" stroke="#7a3d10" stroke-width="0.7" opacity="0.45"/>
<path d="M979.26,626.72 989.9,626.72 989.9,649.17 979.26,649.17Z" fill="none" stroke="#1f4057" stroke-width="0.9"/>
<path d="M983.28,561.72 994.63,551.09 1005.97,561.72 1005.97,646.81 983.28,646.81Z" fill="#58a7d4" stroke="#1f4057" stroke-width="0.9"/>
<path d="M984.23,564.56H1005.03M984.23,566.92H1005.03M984.23,569.29H1005.03M984.23,571.65H1005.03M984.23,574.01H1005.03M984.23,576.38H1005.03M984.23,578.74H1005.03M984.23,581.1H1005.03M984.23,583.47H1005.03M984.23,585.83H1005.03M984.23,588.2H1005.03M984.23,590.56H1005.03M984.23,592.92H1005.03M984.23,595.29H1005.03M984.23,597.65H1005.03M984.23,600.01H1005.03M984.23,602.38H1005.03M984.23,604.74H1005.03M984.23,607.1H1005.03M984.23,609.47H1005.03M984.23,611.83H1005.03M984.23,614.19H1005.03M984.23,616.56H1005.03M984.23,618.92H1005.03M984.23,621.28H1005.03M984.23,623.65H1005.03M984.23,626.01H1005.03M984.23,628.38H1005.03M984.23,630.74H1005.03M984.23,633.1H1005.03M984.23,635.47H1005.03M984.23,637.83H1005.03M984.23,640.19H1005.03M984.23,642.56H1005.03M984.23,644.92H1005.03" fill="none" stroke="#123f63" stroke-width="0.7" opacity="0.55"/>
<path d="M983.28,561.72 994.63,551.09 1005.97,561.72 1005.97,646.81 983.28,646.81Z" fill="none" stroke="#1f4057" stroke-width="0.9"/>
<path d="M1002.9,613.72 1021.1,613.72 1021.1,645.63 1002.9,645.63Z" fill="#ea9148"/>
<path d="M1004.72,614.67V644.68M1007.32,614.67V644.68M1009.92,614.67V644.68M1012.52,614.67V644.68M1015.12,614.67V644.68M1017.72,614.67V644.68M1020.32,614.67V644.68" fill="none" stroke="#7a3d10" stroke-width="0.7" opacity="0.55"/>
<path d="M1002.9,613.72 1021.1,613.72 1021.1,645.63 1002.9,645.63Z" fill="none" stroke="#1f4057" stroke-width="0.9"/>
<path d="M996.99,645.63 1024.17,645.63 1024.17,660.05 996.99,660.05Z" fill="#2f7fb8"/>
<path d="M997.94,647.94H1023.23M997.94,651.25H1023.23M997.94,654.56H1023.23M997.94,657.87H1023.23M999.31,646.57V659.1M1002.62,646.57V659.1M1005.92,646.57V659.1M1009.23,646.57V659.1M1012.54,646.57V659.1M1015.85,646.57V659.1M1019.16,646.57V659.1M1022.47,646.57V659.1" fill="none" stroke="#bfe0f2" stroke-width="0.7" opacity="0.4"/>
<path d="M996.99,645.63 1024.17,645.63 1024.17,660.05 996.99,660.05Z" fill="none" stroke="#1f4057" stroke-width="0.9"/>
<path d="M1017.55,536.91 1034.81,536.91 1034.81,630.27 1017.55,630.27Z" fill="#2f7fb8" stroke="#1f4057" stroke-width="0.9"/>
<path d="M1017.55,536.91 1022.99,536.91 1028.9,599.54 1028.9,630.27 1017.55,630.27Z" fill="#58a7d4"/>
<path d="M1027.48,551.56H1033.86M1027.48,553.92H1033.86M1027.48,556.29H1033.86M1027.48,558.65H1033.86M1027.48,561.02H1033.86M1027.48,563.38H1033.86M1027.48,565.74H1033.86M1027.48,568.11H1033.86M1027.48,570.47H1033.86M1027.48,572.83H1033.86M1027.48,575.2H1033.86M1027.48,577.56H1033.86M1027.48,579.92H1033.86M1027.48,582.29H1033.86M1027.48,584.65H1033.86M1027.48,587.01H1033.86M1027.48,589.38H1033.86M1027.48,591.74H1033.86M1027.48,594.1H1033.86M1027.48,596.47H1033.86M1027.48,598.83H1033.86M1027.48,601.19H1033.86M1027.48,603.56H1033.86M1027.48,605.92H1033.86M1027.48,608.29H1033.86M1027.48,610.65H1033.86M1027.48,613.01H1033.86M1027.48,615.38H1033.86M1027.48,617.74H1033.86M1027.48,620.1H1033.86M1027.48,622.47H1033.86M1027.48,624.83H1033.86M1027.48,627.19H1033.86" fill="none" stroke="#0f3a5c" stroke-width="0.7" opacity="0.5"/>
<path d="M1020.63,539.74 1031.26,539.74 1029.61,547.07 1022.28,547.07Z" fill="#dbeaf2" stroke="#1f4057" stroke-width="0.7"/>
<path d="M1017.55,536.91 1034.81,536.91 1034.81,630.27 1017.55,630.27Z" fill="none" stroke="#1f4057" stroke-width="0.9"/>
<path d="M1037.64,610.18 1052.06,610.18 1052.06,660.05 1037.64,660.05Z" fill="#6cbb86"/>
<path d="M1037.64,610.18 1052.06,610.18 1052.06,660.05 1037.64,660.05Z" fill="none" stroke="#1f4057" stroke-width="0.9"/>
<path d="M1039.53,613.72 1049.46,613.72 1049.46,623.18 1039.53,623.18Z" fill="#58a873"/>
<path d="M1040.48,615.71H1048.51M1040.48,618.54H1048.51M1040.48,621.38H1048.51M1041.52,614.67V622.23M1044.35,614.67V622.23M1047.19,614.67V622.23" fill="none" stroke="#1f5a3a" stroke-width="0.7" opacity="0.5"/>
<path d="M1039.53,613.72 1049.46,613.72 1049.46,623.18 1039.53,623.18Z" fill="none" stroke="#1f4057" stroke-width="0.6"/>
<path d="M1057.26,583.0L1057.26,590.09" fill="none" stroke="#1f4057" stroke-width="1.4"/>
<path d="M1047.1,590.09 1055.61,590.09 1055.61,611.36 1047.1,611.36Z" fill="#ea9148"/>
<path d="M1047.1,590.09 1055.61,590.09 1055.61,611.36 1047.1,611.36Z" fill="none" stroke="#1f4057" stroke-width="0.9"/>
<path d="M1053.71,590.09 1064.35,590.09 1064.35,653.9 1053.71,653.9Z" fill="#255a80"/>
<path d="M1054.66,591.58H1063.4M1054.66,593.7H1063.4M1054.66,595.83H1063.4M1054.66,597.96H1063.4M1054.66,600.08H1063.4M1054.66,602.21H1063.4M1054.66,604.34H1063.4M1054.66,606.47H1063.4M1054.66,608.59H1063.4M1054.66,610.72H1063.4M1054.66,612.85H1063.4M1054.66,614.97H1063.4M1054.66,617.1H1063.4M1054.66,619.23H1063.4M1054.66,621.36H1063.4M1054.66,623.48H1063.4M1054.66,625.61H1063.4M1054.66,627.74H1063.4M1054.66,629.86H1063.4M1054.66,631.99H1063.4M1054.66,634.12H1063.4M1054.66,636.25H1063.4M1054.66,638.37H1063.4M1054.66,640.5H1063.4M1054.66,642.63H1063.4M1054.66,644.75H1063.4M1054.66,646.88H1063.4M1054.66,649.01H1063.4M1054.66,651.14H1063.4" fill="none" stroke="#f0c8a6" stroke-width="0.7" opacity="0.75"/>
<path d="M1053.71,590.09 1064.35,590.09 1064.35,653.9 1053.71,653.9Z" fill="none" stroke="#1f4057" stroke-width="0.9"/>
<path d="M1064.35,642.08 1078.53,642.08 1078.53,653.9 1064.35,653.9Z" fill="#58a7d4"/>
<path d="M1065.3,644.4H1077.59M1065.3,647.71H1077.59M1065.3,651.02H1077.59M1066.67,643.03V652.96M1069.98,643.03V652.96M1073.28,643.03V652.96M1076.59,643.03V652.96" fill="none" stroke="#ffffff" stroke-width="0.7" opacity="0.35"/>
<path d="M1064.35,642.08 1078.53,642.08 1078.53,653.9 1064.35,653.9Z" fill="none" stroke="#1f4057" stroke-width="0.9"/>
<path d="M1051.35,652.72 1078.53,652.72 1078.53,660.05 1051.35,660.05Z" fill="#6cbb86"/>
<path d="M1051.35,652.72 1078.53,652.72 1078.53,660.05 1051.35,660.05Z" fill="none" stroke="#1f4057" stroke-width="0.9"/>
<path d="M1024.17,633.81 1026.53,630.27 1043.08,630.27 1045.44,633.81 1045.44,660.05 1024.17,660.05Z" fill="#ea9148" stroke="#1f4057" stroke-width="0.9"/>
<path d="M1025.12,634.78H1044.5M1025.12,637.85H1044.5M1025.12,640.93H1044.5M1025.12,644.0H1044.5M1025.12,647.07H1044.5M1025.12,650.14H1044.5" fill="none" stroke="#3b3b3b" stroke-width="0.7" opacity="0.55"/>
<path d="M1030.08,654.37 1039.53,654.37 1039.53,660.05 1030.08,660.05Z" fill="#86c3e4"/>
<path d="M1030.08,654.37 1039.53,654.37 1039.53,660.05 1030.08,660.05Z" fill="none" stroke="#1f4057" stroke-width="0.9"/>
<path d="M835.09,654.37L835.09,660.05" fill="none" stroke="#1f4057" stroke-width="0.8"/>
<circle cx="835.09" cy="654.37" r="3.55" fill="#7cc48f" stroke="#1f4057" stroke-width="0.8"/>
<path d="M1084.44,654.37L1084.44,660.05" fill="none" stroke="#1f4057" stroke-width="0.8"/>
<circle cx="1084.44" cy="654.37" r="3.55" fill="#7cc48f" stroke="#1f4057" stroke-width="0.8"/>
<path d="M824.45,660.28L1096.26,660.28" fill="none" stroke="#1f4057" stroke-width="1.2"/>
<defs><linearGradient id="dv1" gradientUnits="userSpaceOnUse" x1="0" y1="256" x2="0" y2="450"><stop offset="0" stop-color="#8f9ba2" stop-opacity="0"/><stop offset="0.2" stop-color="#8f9ba2" stop-opacity="0.7"/><stop offset="0.55" stop-color="#7f8c93" stop-opacity="1"/><stop offset="0.85" stop-color="#8f9ba2" stop-opacity="0.6"/><stop offset="1" stop-color="#8f9ba2" stop-opacity="0"/></linearGradient><linearGradient id="dv2" gradientUnits="userSpaceOnUse" x1="0" y1="490" x2="0" y2="658"><stop offset="0" stop-color="#9aa6ac" stop-opacity="0"/><stop offset="0.25" stop-color="#9aa6ac" stop-opacity="0.7"/><stop offset="0.6" stop-color="#9aa6ac" stop-opacity="0.8"/><stop offset="1" stop-color="#9aa6ac" stop-opacity="0"/></linearGradient></defs>
<path d="M640.3 256V450" fill="none" stroke="url(#dv1)" stroke-width="1.5" stroke-dasharray="5.2 3"/>
<path d="M640.3 490V658" fill="none" stroke="url(#dv2)" stroke-width="1.4" stroke-dasharray="5.2 3"/>
</svg>
<h1><span class="t" style="left:52.5px;top:6px;font-size:29.36px;line-height:33px;color:#101010;font-weight:700;-webkit-text-stroke:0.6px #101010;transform:scaleX(0.8621);">ГЛОБАЛЬНЕ</span> <span class="t" style="left:218.1px;top:6px;font-size:29.36px;line-height:33px;color:#101010;font-weight:700;-webkit-text-stroke:0.6px #101010;transform:scaleX(0.8677);">ЗРУШЕННЯ</span> <span class="t" style="left:372.8px;top:6px;font-size:29.36px;line-height:33px;color:#101010;font-weight:700;-webkit-text-stroke:0.6px #101010;transform:scaleX(0.8899);">УРБАНІЗАЦІЇ:</span> <span class="t" style="left:553.5px;top:6px;font-size:29.36px;line-height:33px;color:#101010;font-weight:700;-webkit-text-stroke:0.6px #101010;transform:scaleX(0.9105);">1950–2025</span> <span class="t" style="left:695.1px;top:6px;font-size:29.36px;line-height:33px;color:#101010;font-weight:700;-webkit-text-stroke:0.6px #101010;transform:scaleX(0.8841);">(ГЛИБОКЕ</span> <span class="t" style="left:832.9px;top:6px;font-size:29.36px;line-height:33px;color:#101010;font-weight:700;-webkit-text-stroke:0.6px #101010;transform:scaleX(0.8880);">ДОСЛІДЖЕННЯ</span> <span class="t" style="left:1038.0px;top:6px;font-size:29.36px;line-height:33px;color:#101010;font-weight:700;-webkit-text-stroke:0.6px #101010;transform:scaleX(0.9023);">ІНФОГРАФІКИ)</span></h1>
<h2><span class="t" style="left:362.8px;top:47px;font-size:22.09px;line-height:25px;color:#141414;font-weight:700;-webkit-text-stroke:0.5px #141414;transform:scaleX(0.8350);">Тенденція Зростання Частки Міського Населення у Світі (%)</span></h2>
<div><span class="t" style="left:28.9px;top:68px;font-size:17.73px;line-height:20px;color:#262626;-webkit-text-stroke:0.3px #262626;transform:scaleX(0.7810);">70%</span> <span class="t" style="left:28.8px;top:86px;font-size:17.73px;line-height:20px;color:#262626;-webkit-text-stroke:0.3px #262626;transform:scaleX(0.8114);">60%</span> <span class="t" style="left:28.9px;top:104px;font-size:17.73px;line-height:20px;color:#262626;-webkit-text-stroke:0.3px #262626;transform:scaleX(0.7810);">50%</span> <span class="t" style="left:28.9px;top:122px;font-size:17.73px;line-height:20px;color:#262626;-webkit-text-stroke:0.3px #262626;transform:scaleX(0.7810);">40%</span> <span class="t" style="left:28.9px;top:140px;font-size:17.73px;line-height:20px;color:#262626;-webkit-text-stroke:0.3px #262626;transform:scaleX(0.7810);">30%</span> <span class="t" style="left:28.9px;top:158px;font-size:17.73px;line-height:20px;color:#262626;-webkit-text-stroke:0.3px #262626;transform:scaleX(0.7810);">20%</span> <span class="t" style="left:28.0px;top:175px;font-size:17.73px;line-height:20px;color:#262626;-webkit-text-stroke:0.3px #262626;transform:scaleX(0.8229);">10%</span> <span class="t" style="left:38.6px;top:193px;font-size:17.73px;line-height:20px;color:#262626;-webkit-text-stroke:0.3px #262626;transform:scaleX(0.7419);">0%</span></div>
<div><span class="t" style="left:58.7px;top:207px;font-size:17.73px;line-height:20px;color:#2a2a2a;-webkit-text-stroke:0.3px #2a2a2a;transform:scaleX(0.8790);">1950</span> <span class="t" style="left:287.7px;top:207px;font-size:17.73px;line-height:20px;color:#2a2a2a;-webkit-text-stroke:0.3px #2a2a2a;transform:scaleX(0.8790);">1975</span> <span class="t" style="left:517.7px;top:207px;font-size:17.73px;line-height:20px;color:#2a2a2a;-webkit-text-stroke:0.3px #2a2a2a;transform:scaleX(0.8790);">1980</span> <span class="t" style="left:745.9px;top:207px;font-size:17.73px;line-height:20px;color:#2a2a2a;-webkit-text-stroke:0.3px #2a2a2a;transform:scaleX(0.8790);">1995</span> <span class="t" style="left:975.4px;top:207px;font-size:17.73px;line-height:20px;color:#2a2a2a;-webkit-text-stroke:0.3px #2a2a2a;transform:scaleX(0.8656);">2007</span> <span class="t" style="left:1205.5px;top:207px;font-size:17.73px;line-height:20px;color:#2a2a2a;-webkit-text-stroke:0.3px #2a2a2a;transform:scaleX(0.8656);">2025</span></div>
<div><span class="t" style="left:874.8px;top:120px;font-size:39.53px;line-height:44px;color:#2e6a9d;font-weight:700;-webkit-text-stroke:0.5px #2e6a9d;transform:scaleX(0.7813);">+55%</span></div><h3><span class="t" style="left:121.8px;top:229px;font-size:22.09px;line-height:25px;color:#101010;font-weight:700;-webkit-text-stroke:0.2px #101010;transform:scaleX(0.7838);">КАРТА ЧАСТКИ МІСЬКОГО НАСЕЛЕННЯ (1950)</span></h3>
<h3><span class="t" style="left:718.9px;top:229px;font-size:22.09px;line-height:25px;color:#101010;font-weight:700;-webkit-text-stroke:0.2px #101010;transform:scaleX(0.7791);">КАРТА ЧАСТКИ МІСЬКОГО НАСЕЛЕННЯ (2025 ПРОГНОЗ)</span></h3>
<div><span class="t" style="left:52.9px;top:369px;font-size:19.19px;line-height:21px;color:#1e1e1e;-webkit-text-stroke:0.5px #1e1e1e;transform:scaleX(0.8394);">&lt;30%</span> <span class="t" style="left:52.4px;top:390px;font-size:19.19px;line-height:21px;color:#1e1e1e;-webkit-text-stroke:0.5px #1e1e1e;transform:scaleX(0.8955);">30-50%</span> <span class="t" style="left:52.9px;top:411px;font-size:19.19px;line-height:21px;color:#1e1e1e;-webkit-text-stroke:0.5px #1e1e1e;transform:scaleX(0.8911);">50-70%</span> <span class="t" style="left:52.9px;top:432px;font-size:19.19px;line-height:21px;color:#1e1e1e;-webkit-text-stroke:0.5px #1e1e1e;transform:scaleX(0.8394);">&gt;70%</span></div>
<div><span class="t" style="left:690.5px;top:369px;font-size:19.19px;line-height:21px;color:#1e1e1e;-webkit-text-stroke:0.5px #1e1e1e;transform:scaleX(0.8394);">&lt;30%</span> <span class="t" style="left:690.0px;top:390px;font-size:19.19px;line-height:21px;color:#1e1e1e;-webkit-text-stroke:0.5px #1e1e1e;transform:scaleX(0.8955);">30-50%</span> <span class="t" style="left:689.5px;top:411px;font-size:19.19px;line-height:21px;color:#1e1e1e;-webkit-text-stroke:0.5px #1e1e1e;transform:scaleX(0.8911);">50-70%</span> <span class="t" style="left:690.5px;top:432px;font-size:19.19px;line-height:21px;color:#1e1e1e;-webkit-text-stroke:0.5px #1e1e1e;transform:scaleX(0.8394);">&gt;70%</span></div><h3><span class="t" style="left:131.6px;top:483px;font-size:20.64px;line-height:23px;color:#101010;font-weight:700;-webkit-text-stroke:0.5px #101010;transform:scaleX(0.8401);">ТОП-10 НАЙБІЛЬШИХ МЕГАПОЛІСІВ (1950)</span></h3>
<h3><span class="t" style="left:736.0px;top:483px;font-size:20.64px;line-height:23px;color:#101010;font-weight:700;-webkit-text-stroke:0.5px #101010;transform:scaleX(0.8346);">ТОП-10 НАЙБІЛЬШИХ МЕГАПОЛІСІВ (2025 ПРОГНОЗ)</span></h3>
<div><span class="t" style="left:26.3px;top:506px;font-size:19.19px;line-height:21px;color:#1a1a1a;-webkit-text-stroke:0.5px #1a1a1a;transform:scaleX(0.8800);">1.</span> <span class="t" style="left:45.2px;top:506px;font-size:19.19px;line-height:21px;color:#1a1a1a;-webkit-text-stroke:0.5px #1a1a1a;transform:scaleX(0.9213);">Нью-Йорк</span> <span class="t" style="left:155.0px;top:506px;font-size:19.19px;line-height:21px;color:#1a1a1a;-webkit-text-stroke:0.5px #1a1a1a;transform:scaleX(0.9245);">~12.3</span></div>
<div><span class="t" style="left:27.3px;top:527px;font-size:19.19px;line-height:21px;color:#1a1a1a;-webkit-text-stroke:0.5px #1a1a1a;transform:scaleX(0.8800);">2.</span> <span class="t" style="left:46.2px;top:527px;font-size:19.19px;line-height:21px;color:#1a1a1a;-webkit-text-stroke:0.5px #1a1a1a;transform:scaleX(0.9468);">Токіо</span> <span class="t" style="left:155.0px;top:527px;font-size:19.19px;line-height:21px;color:#1a1a1a;-webkit-text-stroke:0.5px #1a1a1a;transform:scaleX(0.9513);">~11.3</span></div>
<div><span class="t" style="left:27.3px;top:548px;font-size:19.19px;line-height:21px;color:#1a1a1a;-webkit-text-stroke:0.5px #1a1a1a;transform:scaleX(0.8800);">3.</span> <span class="t" style="left:46.3px;top:548px;font-size:19.19px;line-height:21px;color:#1a1a1a;-webkit-text-stroke:0.5px #1a1a1a;transform:scaleX(0.9299);">Лондон</span> <span class="t" style="left:155.0px;top:548px;font-size:19.19px;line-height:21px;color:#1a1a1a;-webkit-text-stroke:0.5px #1a1a1a;transform:scaleX(0.9126);">~8.4</span></div>
<div><span class="t" style="left:27.3px;top:569px;font-size:19.19px;line-height:21px;color:#1a1a1a;-webkit-text-stroke:0.5px #1a1a1a;transform:scaleX(0.8800);">4.</span> <span class="t" style="left:46.2px;top:569px;font-size:19.19px;line-height:21px;color:#1a1a1a;-webkit-text-stroke:0.5px #1a1a1a;transform:scaleX(0.8586);">Осака</span> <span class="t" style="left:155.0px;top:569px;font-size:19.19px;line-height:21px;color:#1a1a1a;-webkit-text-stroke:0.5px #1a1a1a;transform:scaleX(0.9271);">~7.0</span></div>
<div><span class="t" style="left:26.2px;top:590px;font-size:19.19px;line-height:21px;color:#1a1a1a;-webkit-text-stroke:0.5px #1a1a1a;transform:scaleX(0.8800);">5.</span> <span class="t" style="left:45.2px;top:590px;font-size:19.19px;line-height:21px;color:#1a1a1a;-webkit-text-stroke:0.5px #1a1a1a;transform:scaleX(0.9204);">Париж</span> <span class="t" style="left:155.0px;top:590px;font-size:19.19px;line-height:21px;color:#1a1a1a;-webkit-text-stroke:0.5px #1a1a1a;transform:scaleX(0.9318);">~6.5</span></div>
<div><span class="t" style="left:26.2px;top:611px;font-size:19.19px;line-height:21px;color:#1a1a1a;-webkit-text-stroke:0.5px #1a1a1a;transform:scaleX(0.8800);">6.</span> <span class="t" style="left:45.2px;top:611px;font-size:19.19px;line-height:21px;color:#1a1a1a;-webkit-text-stroke:0.5px #1a1a1a;transform:scaleX(0.9403);">Москва</span> <span class="t" style="left:155.0px;top:611px;font-size:19.19px;line-height:21px;color:#1a1a1a;-webkit-text-stroke:0.5px #1a1a1a;transform:scaleX(0.9126);">~5.4</span></div>
<div><span class="t" style="left:26.2px;top:632px;font-size:19.19px;line-height:21px;color:#1a1a1a;-webkit-text-stroke:0.5px #1a1a1a;transform:scaleX(0.8800);">7.</span> <span class="t" style="left:45.2px;top:632px;font-size:19.19px;line-height:21px;color:#1a1a1a;-webkit-text-stroke:0.5px #1a1a1a;transform:scaleX(0.8491);">Буенос-Айрес</span> <span class="t" style="left:155.0px;top:632px;font-size:19.19px;line-height:21px;color:#1a1a1a;-webkit-text-stroke:0.5px #1a1a1a;transform:scaleX(0.8791);">~5.1</span></div>
<div><span class="t" style="left:424.2px;top:506px;font-size:19.19px;line-height:21px;color:#1a1a1a;-webkit-text-stroke:0.5px #1a1a1a;transform:scaleX(0.8800);">4.</span> <span class="t" style="left:443.9px;top:506px;font-size:19.19px;line-height:21px;color:#1a1a1a;-webkit-text-stroke:0.5px #1a1a1a;transform:scaleX(0.9335);">Москва</span> <span class="t" style="left:564.8px;top:506px;font-size:19.19px;line-height:21px;color:#1a1a1a;-webkit-text-stroke:0.5px #1a1a1a;transform:scaleX(0.9156);">~5.4</span></div>
<div><span class="t" style="left:423.2px;top:527px;font-size:19.19px;line-height:21px;color:#1a1a1a;-webkit-text-stroke:0.5px #1a1a1a;transform:scaleX(0.8800);">5.</span> <span class="t" style="left:443.9px;top:527px;font-size:19.19px;line-height:21px;color:#1a1a1a;-webkit-text-stroke:0.5px #1a1a1a;transform:scaleX(0.8982);">Буенос-Айрес</span> <span class="t" style="left:564.8px;top:527px;font-size:19.19px;line-height:21px;color:#1a1a1a;-webkit-text-stroke:0.5px #1a1a1a;transform:scaleX(0.8791);">~5.1</span></div>
<div><span class="t" style="left:423.2px;top:548px;font-size:19.19px;line-height:21px;color:#1a1a1a;-webkit-text-stroke:0.5px #1a1a1a;transform:scaleX(0.8800);">6.</span> <span class="t" style="left:443.9px;top:548px;font-size:19.19px;line-height:21px;color:#1a1a1a;-webkit-text-stroke:0.5px #1a1a1a;transform:scaleX(0.9469);">Чикаго</span> <span class="t" style="left:564.8px;top:548px;font-size:19.19px;line-height:21px;color:#1a1a1a;-webkit-text-stroke:0.5px #1a1a1a;transform:scaleX(0.9214);">~4.9</span></div>
<div><span class="t" style="left:423.2px;top:569px;font-size:19.19px;line-height:21px;color:#1a1a1a;-webkit-text-stroke:0.5px #1a1a1a;transform:scaleX(0.8800);">7.</span> <span class="t" style="left:443.9px;top:569px;font-size:19.19px;line-height:21px;color:#1a1a1a;-webkit-text-stroke:0.5px #1a1a1a;transform:scaleX(0.9469);">Чикаго</span> <span class="t" style="left:564.8px;top:569px;font-size:19.19px;line-height:21px;color:#1a1a1a;-webkit-text-stroke:0.5px #1a1a1a;transform:scaleX(0.9214);">~4.9</span></div>
<div><span class="t" style="left:424.2px;top:590px;font-size:19.19px;line-height:21px;color:#1a1a1a;-webkit-text-stroke:0.5px #1a1a1a;transform:scaleX(0.8800);">8.</span> <span class="t" style="left:443.9px;top:590px;font-size:19.19px;line-height:21px;color:#1a1a1a;-webkit-text-stroke:0.5px #1a1a1a;transform:scaleX(0.9119);">Париж</span> <span class="t" style="left:564.8px;top:590px;font-size:19.19px;line-height:21px;color:#1a1a1a;-webkit-text-stroke:0.5px #1a1a1a;transform:scaleX(0.9199);">~6.5</span></div>
<div><span class="t" style="left:424.2px;top:611px;font-size:19.19px;line-height:21px;color:#1a1a1a;-webkit-text-stroke:0.5px #1a1a1a;transform:scaleX(0.8800);">9.</span> <span class="t" style="left:443.9px;top:611px;font-size:19.19px;line-height:21px;color:#1a1a1a;-webkit-text-stroke:0.5px #1a1a1a;transform:scaleX(0.9204);">Калькутта</span> <span class="t" style="left:564.8px;top:611px;font-size:19.19px;line-height:21px;color:#1a1a1a;-webkit-text-stroke:0.5px #1a1a1a;transform:scaleX(0.9156);">~4.4</span></div>
<div><span class="t" style="left:423.2px;top:632px;font-size:19.19px;line-height:21px;color:#1a1a1a;-webkit-text-stroke:0.5px #1a1a1a;transform:scaleX(0.8800);">10.</span> <span class="t" style="left:454.0px;top:632px;font-size:19.19px;line-height:21px;color:#1a1a1a;-webkit-text-stroke:0.5px #1a1a1a;transform:scaleX(0.9032);">Шанхай</span> <span class="t" style="left:564.8px;top:632px;font-size:19.19px;line-height:21px;color:#1a1a1a;-webkit-text-stroke:0.5px #1a1a1a;transform:scaleX(0.9204);">~4.3</span></div>
<div><span class="t" style="left:663.0px;top:506px;font-size:19.19px;line-height:21px;color:#1a1a1a;-webkit-text-stroke:0.5px #1a1a1a;transform:scaleX(0.8800);">1.</span> <span class="t" style="left:683.7px;top:506px;font-size:19.19px;line-height:21px;color:#1a1a1a;-webkit-text-stroke:0.5px #1a1a1a;transform:scaleX(0.9468);">Токіо</span> <span class="t" style="left:773.3px;top:506px;font-size:19.19px;line-height:21px;color:#1a1a1a;-webkit-text-stroke:0.5px #1a1a1a;transform:scaleX(0.9354);">~37.3</span></div>
<div><span class="t" style="left:664.0px;top:527px;font-size:19.19px;line-height:21px;color:#1a1a1a;-webkit-text-stroke:0.5px #1a1a1a;transform:scaleX(0.8800);">2.</span> <span class="t" style="left:683.9px;top:527px;font-size:19.19px;line-height:21px;color:#1a1a1a;-webkit-text-stroke:0.5px #1a1a1a;transform:scaleX(0.9321);">Делі</span> <span class="t" style="left:773.3px;top:527px;font-size:19.19px;line-height:21px;color:#1a1a1a;-webkit-text-stroke:0.5px #1a1a1a;transform:scaleX(0.9354);">~35.0</span></div>
<div><span class="t" style="left:664.0px;top:548px;font-size:19.19px;line-height:21px;color:#1a1a1a;-webkit-text-stroke:0.5px #1a1a1a;transform:scaleX(0.8800);">3.</span> <span class="t" style="left:682.6px;top:548px;font-size:19.19px;line-height:21px;color:#1a1a1a;-webkit-text-stroke:0.5px #1a1a1a;transform:scaleX(0.9210);">Шанхай</span> <span class="t" style="left:773.3px;top:548px;font-size:19.19px;line-height:21px;color:#1a1a1a;-webkit-text-stroke:0.5px #1a1a1a;transform:scaleX(0.9354);">~28.5</span></div>
<div><span class="t" style="left:664.0px;top:569px;font-size:19.19px;line-height:21px;color:#1a1a1a;-webkit-text-stroke:0.5px #1a1a1a;transform:scaleX(0.8800);">4.</span> <span class="t" style="left:683.9px;top:569px;font-size:19.19px;line-height:21px;color:#1a1a1a;-webkit-text-stroke:0.5px #1a1a1a;transform:scaleX(0.9377);">Дакка</span> <span class="t" style="left:773.3px;top:569px;font-size:19.19px;line-height:21px;color:#1a1a1a;-webkit-text-stroke:0.5px #1a1a1a;transform:scaleX(0.9354);">~24.0</span></div>
<div><span class="t" style="left:664.0px;top:590px;font-size:19.19px;line-height:21px;color:#1a1a1a;-webkit-text-stroke:0.5px #1a1a1a;transform:scaleX(0.8800);">5.</span> <span class="t" style="left:683.7px;top:590px;font-size:19.19px;line-height:21px;color:#1a1a1a;-webkit-text-stroke:0.5px #1a1a1a;transform:scaleX(0.8481);">Сан-Паулу</span> <span class="t" style="left:773.3px;top:590px;font-size:19.19px;line-height:21px;color:#1a1a1a;-webkit-text-stroke:0.5px #1a1a1a;transform:scaleX(0.9354);">~23.5</span></div>
<div><span class="t" style="left:663.9px;top:611px;font-size:19.19px;line-height:21px;color:#1a1a1a;-webkit-text-stroke:0.5px #1a1a1a;transform:scaleX(0.8800);">6.</span> <span class="t" style="left:682.6px;top:611px;font-size:19.19px;line-height:21px;color:#1a1a1a;-webkit-text-stroke:0.5px #1a1a1a;transform:scaleX(0.9489);">Мехіко</span> <span class="t" style="left:773.3px;top:611px;font-size:19.19px;line-height:21px;color:#1a1a1a;-webkit-text-stroke:0.5px #1a1a1a;transform:scaleX(0.9354);">~22.5</span></div>
<div><span class="t" style="left:664.0px;top:632px;font-size:19.19px;line-height:21px;color:#1a1a1a;-webkit-text-stroke:0.5px #1a1a1a;transform:scaleX(0.8800);">7.</span> <span class="t" style="left:682.6px;top:632px;font-size:19.19px;line-height:21px;color:#1a1a1a;-webkit-text-stroke:0.5px #1a1a1a;transform:scaleX(0.9207);">Каїр</span> <span class="t" style="left:773.3px;top:632px;font-size:19.19px;line-height:21px;color:#1a1a1a;-webkit-text-stroke:0.5px #1a1a1a;transform:scaleX(0.9354);">~22.0</span></div>
<div><span class="t" style="left:1101.1px;top:506px;font-size:19.19px;line-height:21px;color:#1a1a1a;-webkit-text-stroke:0.5px #1a1a1a;transform:scaleX(0.8800);">7.</span> <span class="t" style="left:1120.0px;top:506px;font-size:19.19px;line-height:21px;color:#1a1a1a;-webkit-text-stroke:0.5px #1a1a1a;transform:scaleX(0.9207);">Каїр</span> <span class="t" style="left:1207.1px;top:506px;font-size:19.19px;line-height:21px;color:#1a1a1a;-webkit-text-stroke:0.5px #1a1a1a;transform:scaleX(0.9354);">~22.0</span></div>
<div><span class="t" style="left:1102.1px;top:527px;font-size:19.19px;line-height:21px;color:#1a1a1a;-webkit-text-stroke:0.5px #1a1a1a;transform:scaleX(0.8800);">8.</span> <span class="t" style="left:1120.0px;top:527px;font-size:19.19px;line-height:21px;color:#1a1a1a;-webkit-text-stroke:0.5px #1a1a1a;transform:scaleX(0.9476);">Пекін</span> <span class="t" style="left:1207.1px;top:527px;font-size:19.19px;line-height:21px;color:#1a1a1a;-webkit-text-stroke:0.5px #1a1a1a;transform:scaleX(0.9354);">~21.5</span></div>
<div><span class="t" style="left:1102.1px;top:548px;font-size:19.19px;line-height:21px;color:#1a1a1a;-webkit-text-stroke:0.5px #1a1a1a;transform:scaleX(0.8800);">9.</span> <span class="t" style="left:1120.0px;top:548px;font-size:19.19px;line-height:21px;color:#1a1a1a;-webkit-text-stroke:0.5px #1a1a1a;transform:scaleX(0.9109);">Мумбаї</span> <span class="t" style="left:1207.1px;top:548px;font-size:19.19px;line-height:21px;color:#1a1a1a;-webkit-text-stroke:0.5px #1a1a1a;transform:scaleX(0.9354);">~20.8</span></div>
<div><span class="t" style="left:1101.1px;top:569px;font-size:19.19px;line-height:21px;color:#1a1a1a;-webkit-text-stroke:0.5px #1a1a1a;transform:scaleX(0.8800);">10.</span> <span class="t" style="left:1131.1px;top:569px;font-size:19.19px;line-height:21px;color:#1a1a1a;-webkit-text-stroke:0.5px #1a1a1a;transform:scaleX(0.8495);">Осака</span> <span class="t" style="left:1207.1px;top:569px;font-size:19.19px;line-height:21px;color:#1a1a1a;-webkit-text-stroke:0.5px #1a1a1a;transform:scaleX(0.9354);">~19.2</span></div>
<div><span class="t" style="left:1101.1px;top:590px;font-size:19.19px;line-height:21px;color:#1a1a1a;-webkit-text-stroke:0.5px #1a1a1a;transform:scaleX(0.8800);">11.</span> <span class="t" style="left:1131.1px;top:590px;font-size:19.19px;line-height:21px;color:#1a1a1a;-webkit-text-stroke:0.5px #1a1a1a;transform:scaleX(0.8495);">Осака</span> <span class="t" style="left:1207.1px;top:590px;font-size:19.19px;line-height:21px;color:#1a1a1a;-webkit-text-stroke:0.5px #1a1a1a;transform:scaleX(0.9354);">~19.4</span></div>
<div><span class="t" style="left:1101.1px;top:611px;font-size:19.19px;line-height:21px;color:#1a1a1a;-webkit-text-stroke:0.5px #1a1a1a;transform:scaleX(0.8800);">12.</span> <span class="t" style="left:1130.1px;top:611px;font-size:19.19px;line-height:21px;color:#1a1a1a;-webkit-text-stroke:0.5px #1a1a1a;transform:scaleX(0.9066);">Шанхай</span> <span class="t" style="left:1207.1px;top:611px;font-size:19.19px;line-height:21px;color:#1a1a1a;-webkit-text-stroke:0.5px #1a1a1a;transform:scaleX(0.9354);">~19.3</span></div>
<div><span class="t" style="left:1101.1px;top:632px;font-size:19.19px;line-height:21px;color:#1a1a1a;-webkit-text-stroke:0.5px #1a1a1a;transform:scaleX(0.8800);">13.</span> <span class="t" style="left:1131.3px;top:632px;font-size:19.19px;line-height:21px;color:#1a1a1a;-webkit-text-stroke:0.5px #1a1a1a;transform:scaleX(0.9302);">Дакка</span> <span class="t" style="left:1207.1px;top:632px;font-size:19.19px;line-height:21px;color:#1a1a1a;-webkit-text-stroke:0.5px #1a1a1a;transform:scaleX(0.9351);">~<span style="color:#7d8184;-webkit-text-stroke-color:#7d8184">19</span><span style="color:#4a4d4f;-webkit-text-stroke-color:#4a4d4f">.2</span></span></div><p><b class="t" style="left:151.1px;top:674px;font-size:16.28px;line-height:18px;color:#101010;font-weight:700;-webkit-text-stroke:0.3px #101010;transform:scaleX(0.8628);">Джерела:</b> <span class="t" style="left:220.0px;top:674px;font-size:16.28px;line-height:18px;color:#1a1a1a;-webkit-text-stroke:0.35px #1a1a1a;transform:scaleX(0.8827);">Перспективи Світової Урбанізації ООН, Дані Світового Банку про Міське Населення. Усі дані є приблизними та можуть бути переглянуті.</span></p>
<svg id="ov" width="1280" height="698" viewBox="0 0 1280 698"><path d="M1229.5,613.5 C1233.1,639.9 1233.1,639.9 1259.5,643.5 C1233.1,647.1 1233.1,647.1 1229.5,673.5 C1225.9,647.1 1225.9,647.1 1199.5,643.5 C1225.9,639.9 1225.9,639.9 1229.5,613.5Z" fill="#f6fafc" opacity="0.3"/></svg>
</body></html>
